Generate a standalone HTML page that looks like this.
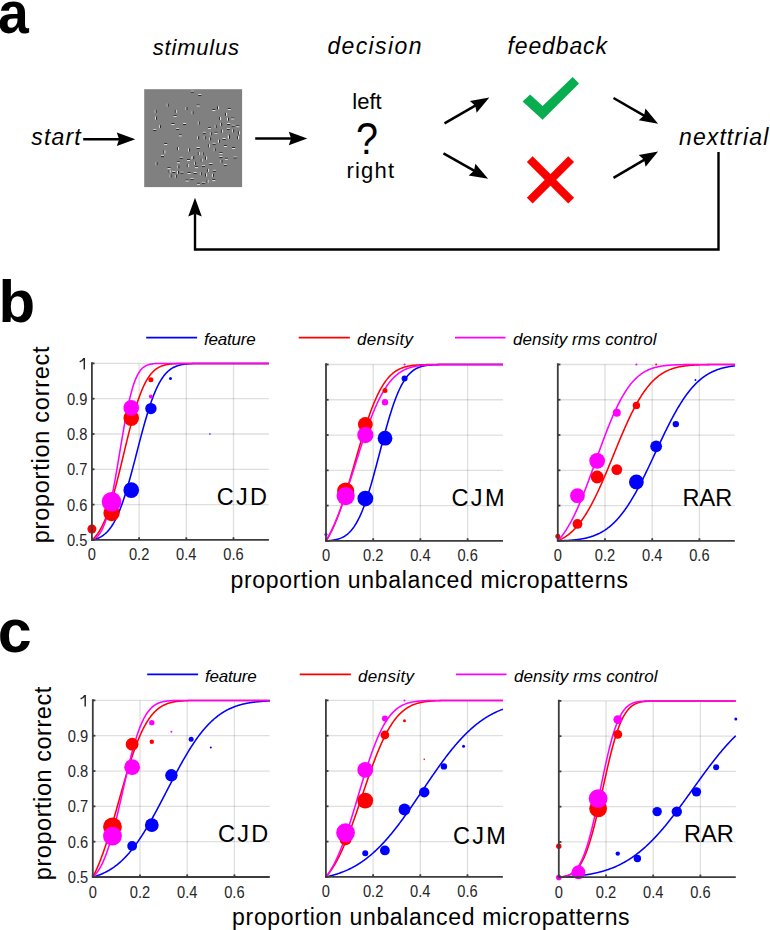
<!DOCTYPE html><html><head><meta charset="utf-8"><style>html,body{margin:0;padding:0;background:#fff;overflow:hidden;}svg{display:block;}</style></head><body><svg width="770" height="930" viewBox="0 0 770 930" font-family='"Liberation Sans", sans-serif'>
<rect width="770" height="930" fill="#fff"/>
<text x="0" y="0" font-size="59.5" font-weight="bold" fill="#000" transform="translate(-2.0,32.6) scale(0.93,1)">a</text>
<text x="0" y="0" font-size="60" font-weight="bold" fill="#000" transform="translate(-1.4,321.8) scale(1.0,1)">b</text>
<text x="0" y="0" font-size="61" font-weight="bold" fill="#000" transform="translate(-2.2,651.9) scale(1.0,1)">c</text>
<text x="152.8" y="54.8" font-size="22" font-style="italic" letter-spacing="0.8" fill="#000">stimulus</text>
<text x="327.4" y="54.2" font-size="23" font-style="italic" letter-spacing="1.38" fill="#000">decision</text>
<text x="507.5" y="54.1" font-size="23" font-style="italic" letter-spacing="0.87" fill="#000">feedback</text>
<text x="679.0" y="144.7" font-size="23" font-style="italic" letter-spacing="1.1" fill="#000">nexttrial</text>
<text x="31.2" y="144.8" font-size="23" font-style="italic" letter-spacing="1.2" fill="#000">start</text>
<text x="352.3" y="109.3" font-size="22" fill="#000">left</text>
<text x="346.4" y="177.6" font-size="22" letter-spacing="1.2" fill="#000">right</text>
<text x="0" y="0" font-size="39.5" fill="#000" transform="translate(356.0,153.6) scale(1,1.14)">?</text>
<line x1="83.20" y1="139.30" x2="120.10" y2="139.30" stroke="#000" stroke-width="2.5"/>
<polygon points="135.30,139.30 116.80,146.10 119.10,139.30 116.80,132.50" fill="#000"/>
<line x1="255.20" y1="138.50" x2="292.10" y2="138.50" stroke="#000" stroke-width="2.5"/>
<polygon points="307.30,138.50 288.80,145.30 291.10,138.50 288.80,131.70" fill="#000"/>
<line x1="444.50" y1="123.40" x2="476.13" y2="105.19" stroke="#000" stroke-width="2.5"/>
<polygon points="489.30,97.60 476.66,112.73 475.26,105.68 469.87,100.94" fill="#000"/>
<line x1="443.50" y1="153.30" x2="474.89" y2="171.18" stroke="#000" stroke-width="2.5"/>
<polygon points="488.10,178.70 468.66,175.45 474.02,170.68 475.39,163.64" fill="#000"/>
<line x1="613.50" y1="98.00" x2="644.93" y2="116.11" stroke="#000" stroke-width="2.5"/>
<polygon points="658.10,123.70 638.68,120.36 644.06,115.61 645.47,108.57" fill="#000"/>
<line x1="613.50" y1="177.80" x2="644.99" y2="159.30" stroke="#000" stroke-width="2.5"/>
<polygon points="658.10,151.60 645.59,166.83 644.13,159.81 638.70,155.11" fill="#000"/>
<polyline points="718.5,151.9 718.5,249.5 195,249.5 195,214" fill="none" stroke="#000" stroke-width="2.4"/>
<polygon points="195,197.7 201.8,216.4 195,213.8 188.2,216.4" fill="#000"/>
<polygon points="522.6,101.6 530.1,94.5 542.6,106.1 572.7,77.1 579,83.5 542.6,119.7" fill="#07ad4f"/>
<line x1="529.75" y1="159.2" x2="571.15" y2="200.6" stroke="#fb0000" stroke-width="8.2"/>
<line x1="571.15" y1="159.2" x2="529.75" y2="200.6" stroke="#fb0000" stroke-width="8.2"/>
<rect x="144.2" y="89.2" width="97.9" height="97.9" fill="#808080"/>
<rect x="190.90" y="90.80" width="3.0" height="0.9" fill="#f0f0f0"/><rect x="190.90" y="91.70" width="3.0" height="0.9" fill="#1a1a1a"/>
<rect x="198.30" y="94.20" width="3.0" height="0.9" fill="#f0f0f0"/><rect x="198.30" y="95.10" width="3.0" height="0.9" fill="#1a1a1a"/>
<rect x="166.80" y="103.70" width="0.9" height="3.0" fill="#f0f0f0"/><rect x="167.70" y="103.70" width="0.9" height="3.0" fill="#1a1a1a"/>
<rect x="154.80" y="109.90" width="0.9" height="3.0" fill="#f0f0f0"/><rect x="155.70" y="109.90" width="0.9" height="3.0" fill="#1a1a1a"/>
<rect x="174.90" y="109.90" width="0.9" height="3.0" fill="#1a1a1a"/><rect x="175.80" y="109.90" width="0.9" height="3.0" fill="#f0f0f0"/>
<rect x="185.60" y="107.00" width="0.9" height="3.0" fill="#f0f0f0"/><rect x="186.50" y="107.00" width="0.9" height="3.0" fill="#1a1a1a"/>
<rect x="191.70" y="111.20" width="0.9" height="3.0" fill="#f0f0f0"/><rect x="192.60" y="111.20" width="0.9" height="3.0" fill="#1a1a1a"/>
<rect x="173.60" y="115.00" width="3.0" height="0.9" fill="#1a1a1a"/><rect x="173.60" y="115.90" width="3.0" height="0.9" fill="#f0f0f0"/>
<rect x="155.10" y="116.70" width="0.9" height="3.0" fill="#f0f0f0"/><rect x="156.00" y="116.70" width="0.9" height="3.0" fill="#1a1a1a"/>
<rect x="171.40" y="123.10" width="3.0" height="0.9" fill="#1a1a1a"/><rect x="171.40" y="124.00" width="3.0" height="0.9" fill="#f0f0f0"/>
<rect x="183.10" y="123.10" width="3.0" height="0.9" fill="#f0f0f0"/><rect x="183.10" y="124.00" width="3.0" height="0.9" fill="#1a1a1a"/>
<rect x="159.00" y="125.10" width="0.9" height="3.0" fill="#f0f0f0"/><rect x="159.90" y="125.10" width="0.9" height="3.0" fill="#1a1a1a"/>
<rect x="153.20" y="129.00" width="3.0" height="0.9" fill="#f0f0f0"/><rect x="153.20" y="129.90" width="3.0" height="0.9" fill="#1a1a1a"/>
<rect x="176.20" y="128.00" width="3.0" height="0.9" fill="#f0f0f0"/><rect x="176.20" y="128.90" width="3.0" height="0.9" fill="#1a1a1a"/>
<rect x="178.80" y="134.50" width="3.0" height="0.9" fill="#1a1a1a"/><rect x="178.80" y="135.40" width="3.0" height="0.9" fill="#f0f0f0"/>
<rect x="196.70" y="104.60" width="3.0" height="0.9" fill="#1a1a1a"/><rect x="196.70" y="105.50" width="3.0" height="0.9" fill="#f0f0f0"/>
<rect x="212.30" y="109.20" width="3.0" height="0.9" fill="#1a1a1a"/><rect x="212.30" y="110.10" width="3.0" height="0.9" fill="#f0f0f0"/>
<rect x="217.10" y="106.30" width="0.9" height="3.0" fill="#1a1a1a"/><rect x="218.00" y="106.30" width="0.9" height="3.0" fill="#f0f0f0"/>
<rect x="227.80" y="108.20" width="3.0" height="0.9" fill="#1a1a1a"/><rect x="227.80" y="109.10" width="3.0" height="0.9" fill="#f0f0f0"/>
<rect x="225.20" y="112.80" width="0.9" height="3.0" fill="#1a1a1a"/><rect x="226.10" y="112.80" width="0.9" height="3.0" fill="#f0f0f0"/>
<rect x="219.00" y="117.00" width="0.9" height="3.0" fill="#1a1a1a"/><rect x="219.90" y="117.00" width="0.9" height="3.0" fill="#f0f0f0"/>
<rect x="227.10" y="117.70" width="0.9" height="3.0" fill="#f0f0f0"/><rect x="228.00" y="117.70" width="0.9" height="3.0" fill="#1a1a1a"/>
<rect x="231.10" y="117.60" width="3.0" height="0.9" fill="#1a1a1a"/><rect x="231.10" y="118.50" width="3.0" height="0.9" fill="#f0f0f0"/>
<rect x="197.90" y="121.60" width="0.9" height="3.0" fill="#f0f0f0"/><rect x="198.80" y="121.60" width="0.9" height="3.0" fill="#1a1a1a"/>
<rect x="220.30" y="122.90" width="0.9" height="3.0" fill="#f0f0f0"/><rect x="221.20" y="122.90" width="0.9" height="3.0" fill="#1a1a1a"/>
<rect x="227.20" y="123.10" width="3.0" height="0.9" fill="#f0f0f0"/><rect x="227.20" y="124.00" width="3.0" height="0.9" fill="#1a1a1a"/>
<rect x="231.70" y="124.80" width="3.0" height="0.9" fill="#f0f0f0"/><rect x="231.70" y="125.70" width="3.0" height="0.9" fill="#1a1a1a"/>
<rect x="236.30" y="125.40" width="3.0" height="0.9" fill="#1a1a1a"/><rect x="236.30" y="126.30" width="3.0" height="0.9" fill="#f0f0f0"/>
<rect x="214.80" y="125.10" width="0.9" height="3.0" fill="#f0f0f0"/><rect x="215.70" y="125.10" width="0.9" height="3.0" fill="#1a1a1a"/>
<rect x="208.00" y="127.00" width="3.0" height="0.9" fill="#1a1a1a"/><rect x="208.00" y="127.90" width="3.0" height="0.9" fill="#f0f0f0"/>
<rect x="226.90" y="128.00" width="3.0" height="0.9" fill="#f0f0f0"/><rect x="226.90" y="128.90" width="3.0" height="0.9" fill="#1a1a1a"/>
<rect x="221.00" y="129.70" width="0.9" height="3.0" fill="#1a1a1a"/><rect x="221.90" y="129.70" width="0.9" height="3.0" fill="#f0f0f0"/>
<rect x="232.30" y="129.40" width="0.9" height="3.0" fill="#f0f0f0"/><rect x="233.20" y="129.40" width="0.9" height="3.0" fill="#1a1a1a"/>
<rect x="202.80" y="131.90" width="3.0" height="0.9" fill="#f0f0f0"/><rect x="202.80" y="132.80" width="3.0" height="0.9" fill="#1a1a1a"/>
<rect x="214.50" y="131.90" width="3.0" height="0.9" fill="#1a1a1a"/><rect x="214.50" y="132.80" width="3.0" height="0.9" fill="#f0f0f0"/>
<rect x="209.90" y="132.30" width="0.9" height="3.0" fill="#f0f0f0"/><rect x="210.80" y="132.30" width="0.9" height="3.0" fill="#1a1a1a"/>
<rect x="238.20" y="131.30" width="0.9" height="3.0" fill="#1a1a1a"/><rect x="239.10" y="131.30" width="0.9" height="3.0" fill="#f0f0f0"/>
<rect x="227.80" y="134.60" width="0.9" height="3.0" fill="#f0f0f0"/><rect x="228.70" y="134.60" width="0.9" height="3.0" fill="#1a1a1a"/>
<rect x="197.30" y="136.30" width="0.9" height="3.0" fill="#f0f0f0"/><rect x="198.20" y="136.30" width="0.9" height="3.0" fill="#1a1a1a"/>
<rect x="203.80" y="136.30" width="0.9" height="3.0" fill="#f0f0f0"/><rect x="204.70" y="136.30" width="0.9" height="3.0" fill="#1a1a1a"/>
<rect x="237.20" y="136.10" width="0.9" height="3.0" fill="#1a1a1a"/><rect x="238.10" y="136.10" width="0.9" height="3.0" fill="#f0f0f0"/>
<rect x="164.20" y="143.20" width="3.0" height="0.9" fill="#1a1a1a"/><rect x="164.20" y="144.10" width="3.0" height="0.9" fill="#f0f0f0"/>
<rect x="177.20" y="147.20" width="0.9" height="3.0" fill="#1a1a1a"/><rect x="178.10" y="147.20" width="0.9" height="3.0" fill="#f0f0f0"/>
<rect x="188.20" y="148.50" width="0.9" height="3.0" fill="#f0f0f0"/><rect x="189.10" y="148.50" width="0.9" height="3.0" fill="#1a1a1a"/>
<rect x="163.50" y="150.40" width="0.9" height="3.0" fill="#1a1a1a"/><rect x="164.40" y="150.40" width="0.9" height="3.0" fill="#f0f0f0"/>
<rect x="161.00" y="155.30" width="3.0" height="0.9" fill="#f0f0f0"/><rect x="161.00" y="156.20" width="3.0" height="0.9" fill="#1a1a1a"/>
<rect x="179.80" y="156.90" width="3.0" height="0.9" fill="#f0f0f0"/><rect x="179.80" y="157.80" width="3.0" height="0.9" fill="#1a1a1a"/>
<rect x="187.00" y="159.20" width="3.0" height="0.9" fill="#1a1a1a"/><rect x="187.00" y="160.10" width="3.0" height="0.9" fill="#f0f0f0"/>
<rect x="191.50" y="156.30" width="0.9" height="3.0" fill="#f0f0f0"/><rect x="192.40" y="156.30" width="0.9" height="3.0" fill="#1a1a1a"/>
<rect x="176.90" y="161.40" width="3.0" height="0.9" fill="#1a1a1a"/><rect x="176.90" y="162.30" width="3.0" height="0.9" fill="#f0f0f0"/>
<rect x="155.70" y="162.10" width="0.9" height="3.0" fill="#f0f0f0"/><rect x="156.60" y="162.10" width="0.9" height="3.0" fill="#1a1a1a"/>
<rect x="177.50" y="165.40" width="0.9" height="3.0" fill="#f0f0f0"/><rect x="178.40" y="165.40" width="0.9" height="3.0" fill="#1a1a1a"/>
<rect x="186.90" y="164.10" width="0.9" height="3.0" fill="#1a1a1a"/><rect x="187.80" y="164.10" width="0.9" height="3.0" fill="#f0f0f0"/>
<rect x="167.50" y="167.30" width="3.0" height="0.9" fill="#1a1a1a"/><rect x="167.50" y="168.20" width="3.0" height="0.9" fill="#f0f0f0"/>
<rect x="168.70" y="169.90" width="0.9" height="3.0" fill="#1a1a1a"/><rect x="169.60" y="169.90" width="0.9" height="3.0" fill="#f0f0f0"/>
<rect x="172.30" y="171.20" width="3.0" height="0.9" fill="#f0f0f0"/><rect x="172.30" y="172.10" width="3.0" height="0.9" fill="#1a1a1a"/>
<rect x="177.20" y="170.90" width="0.9" height="3.0" fill="#f0f0f0"/><rect x="178.10" y="170.90" width="0.9" height="3.0" fill="#1a1a1a"/>
<rect x="180.50" y="171.80" width="3.0" height="0.9" fill="#f0f0f0"/><rect x="180.50" y="172.70" width="3.0" height="0.9" fill="#1a1a1a"/>
<rect x="187.60" y="172.10" width="3.0" height="0.9" fill="#1a1a1a"/><rect x="187.60" y="173.00" width="3.0" height="0.9" fill="#f0f0f0"/>
<rect x="169.70" y="174.50" width="0.9" height="3.0" fill="#f0f0f0"/><rect x="170.60" y="174.50" width="0.9" height="3.0" fill="#1a1a1a"/>
<rect x="174.90" y="174.80" width="0.9" height="3.0" fill="#f0f0f0"/><rect x="175.80" y="174.80" width="0.9" height="3.0" fill="#1a1a1a"/>
<rect x="185.70" y="179.60" width="3.0" height="0.9" fill="#1a1a1a"/><rect x="185.70" y="180.50" width="3.0" height="0.9" fill="#f0f0f0"/>
<rect x="190.50" y="178.00" width="3.0" height="0.9" fill="#f0f0f0"/><rect x="190.50" y="178.90" width="3.0" height="0.9" fill="#1a1a1a"/>
<rect x="209.30" y="137.50" width="0.9" height="3.0" fill="#f0f0f0"/><rect x="210.20" y="137.50" width="0.9" height="3.0" fill="#1a1a1a"/>
<rect x="222.60" y="138.10" width="3.0" height="0.9" fill="#f0f0f0"/><rect x="222.60" y="139.00" width="3.0" height="0.9" fill="#1a1a1a"/>
<rect x="228.10" y="135.80" width="0.9" height="3.0" fill="#f0f0f0"/><rect x="229.00" y="135.80" width="0.9" height="3.0" fill="#1a1a1a"/>
<rect x="218.10" y="139.70" width="0.9" height="3.0" fill="#f0f0f0"/><rect x="219.00" y="139.70" width="0.9" height="3.0" fill="#1a1a1a"/>
<rect x="212.60" y="142.90" width="3.0" height="0.9" fill="#f0f0f0"/><rect x="212.60" y="143.80" width="3.0" height="0.9" fill="#1a1a1a"/>
<rect x="208.00" y="144.30" width="0.9" height="3.0" fill="#1a1a1a"/><rect x="208.90" y="144.30" width="0.9" height="3.0" fill="#f0f0f0"/>
<rect x="223.90" y="145.20" width="3.0" height="0.9" fill="#1a1a1a"/><rect x="223.90" y="146.10" width="3.0" height="0.9" fill="#f0f0f0"/>
<rect x="232.10" y="147.10" width="3.0" height="0.9" fill="#1a1a1a"/><rect x="232.10" y="148.00" width="3.0" height="0.9" fill="#f0f0f0"/>
<rect x="196.70" y="147.10" width="3.0" height="0.9" fill="#f0f0f0"/><rect x="196.70" y="148.00" width="3.0" height="0.9" fill="#1a1a1a"/>
<rect x="213.80" y="148.20" width="0.9" height="3.0" fill="#f0f0f0"/><rect x="214.70" y="148.20" width="0.9" height="3.0" fill="#1a1a1a"/>
<rect x="197.90" y="152.10" width="0.9" height="3.0" fill="#1a1a1a"/><rect x="198.80" y="152.10" width="0.9" height="3.0" fill="#f0f0f0"/>
<rect x="201.80" y="152.40" width="0.9" height="3.0" fill="#f0f0f0"/><rect x="202.70" y="152.40" width="0.9" height="3.0" fill="#1a1a1a"/>
<rect x="219.40" y="152.00" width="3.0" height="0.9" fill="#1a1a1a"/><rect x="219.40" y="152.90" width="3.0" height="0.9" fill="#f0f0f0"/>
<rect x="192.40" y="156.00" width="0.9" height="3.0" fill="#f0f0f0"/><rect x="193.30" y="156.00" width="0.9" height="3.0" fill="#1a1a1a"/>
<rect x="205.10" y="156.60" width="0.9" height="3.0" fill="#1a1a1a"/><rect x="206.00" y="156.60" width="0.9" height="3.0" fill="#f0f0f0"/>
<rect x="219.40" y="156.20" width="3.0" height="0.9" fill="#f0f0f0"/><rect x="219.40" y="157.10" width="3.0" height="0.9" fill="#1a1a1a"/>
<rect x="224.90" y="157.90" width="3.0" height="0.9" fill="#1a1a1a"/><rect x="224.90" y="158.80" width="3.0" height="0.9" fill="#f0f0f0"/>
<rect x="233.70" y="156.60" width="3.0" height="0.9" fill="#f0f0f0"/><rect x="233.70" y="157.50" width="3.0" height="0.9" fill="#1a1a1a"/>
<rect x="200.80" y="158.60" width="0.9" height="3.0" fill="#1a1a1a"/><rect x="201.70" y="158.60" width="0.9" height="3.0" fill="#f0f0f0"/>
<rect x="220.60" y="159.90" width="0.9" height="3.0" fill="#f0f0f0"/><rect x="221.50" y="159.90" width="0.9" height="3.0" fill="#1a1a1a"/>
<rect x="194.00" y="161.80" width="0.9" height="3.0" fill="#f0f0f0"/><rect x="194.90" y="161.80" width="0.9" height="3.0" fill="#1a1a1a"/>
<rect x="209.30" y="163.10" width="3.0" height="0.9" fill="#f0f0f0"/><rect x="209.30" y="164.00" width="3.0" height="0.9" fill="#1a1a1a"/>
<rect x="223.90" y="164.00" width="3.0" height="0.9" fill="#f0f0f0"/><rect x="223.90" y="164.90" width="3.0" height="0.9" fill="#1a1a1a"/>
<rect x="201.90" y="165.00" width="3.0" height="0.9" fill="#f0f0f0"/><rect x="201.90" y="165.90" width="3.0" height="0.9" fill="#1a1a1a"/>
<rect x="195.00" y="166.30" width="3.0" height="0.9" fill="#1a1a1a"/><rect x="195.00" y="167.20" width="3.0" height="0.9" fill="#f0f0f0"/>
<rect x="207.00" y="168.90" width="0.9" height="3.0" fill="#1a1a1a"/><rect x="207.90" y="168.90" width="0.9" height="3.0" fill="#f0f0f0"/>
<rect x="212.90" y="169.90" width="3.0" height="0.9" fill="#f0f0f0"/><rect x="212.90" y="170.80" width="3.0" height="0.9" fill="#1a1a1a"/>
<rect x="193.70" y="172.10" width="3.0" height="0.9" fill="#f0f0f0"/><rect x="193.70" y="173.00" width="3.0" height="0.9" fill="#1a1a1a"/>
<rect x="199.90" y="172.20" width="0.9" height="3.0" fill="#f0f0f0"/><rect x="200.80" y="172.20" width="0.9" height="3.0" fill="#1a1a1a"/>
<rect x="205.10" y="173.50" width="0.9" height="3.0" fill="#1a1a1a"/><rect x="206.00" y="173.50" width="0.9" height="3.0" fill="#f0f0f0"/>
<rect x="212.20" y="173.80" width="0.9" height="3.0" fill="#f0f0f0"/><rect x="213.10" y="173.80" width="0.9" height="3.0" fill="#1a1a1a"/>
<rect x="206.70" y="179.70" width="0.9" height="3.0" fill="#1a1a1a"/><rect x="207.60" y="179.70" width="0.9" height="3.0" fill="#f0f0f0"/>
<rect x="212.30" y="179.30" width="3.0" height="0.9" fill="#1a1a1a"/><rect x="212.30" y="180.20" width="3.0" height="0.9" fill="#f0f0f0"/>
<rect x="197.00" y="182.90" width="3.0" height="0.9" fill="#1a1a1a"/><rect x="197.00" y="183.80" width="3.0" height="0.9" fill="#f0f0f0"/>
<rect x="201.90" y="181.90" width="3.0" height="0.9" fill="#f0f0f0"/><rect x="201.90" y="182.80" width="3.0" height="0.9" fill="#1a1a1a"/>
<line x1="146.2" y1="337.6" x2="197.1" y2="337.6" stroke="#0000ff" stroke-width="1.7"/>
<text x="204.0" y="344.7" font-size="17" font-style="italic" letter-spacing="-0.2" fill="#000">feature</text>
<line x1="298.7" y1="337.6" x2="349.9" y2="337.6" stroke="#ff0000" stroke-width="1.7"/>
<text x="357.0" y="344.7" font-size="17" font-style="italic" letter-spacing="0.35" fill="#000">density</text>
<line x1="455.0" y1="337.6" x2="505.5" y2="337.6" stroke="#ff00ff" stroke-width="1.7"/>
<text x="513.0" y="344.7" font-size="17" font-style="italic" letter-spacing="0.05" fill="#000">density rms control</text>
<line x1="147.2" y1="674.4000000000001" x2="198.1" y2="674.4000000000001" stroke="#0000ff" stroke-width="1.7"/>
<text x="205.0" y="681.5" font-size="17" font-style="italic" letter-spacing="-0.2" fill="#000">feature</text>
<line x1="299.7" y1="674.4000000000001" x2="350.9" y2="674.4000000000001" stroke="#ff0000" stroke-width="1.7"/>
<text x="358.0" y="681.5" font-size="17" font-style="italic" letter-spacing="0.35" fill="#000">density</text>
<line x1="456.0" y1="674.4000000000001" x2="506.5" y2="674.4000000000001" stroke="#ff00ff" stroke-width="1.7"/>
<text x="514.0" y="681.5" font-size="17" font-style="italic" letter-spacing="0.05" fill="#000">density rms control</text>
<text x="0" y="0" font-size="23.5" fill="#000" textLength="196.8" lengthAdjust="spacing" transform="translate(49.2,543.2) rotate(-90)">proportion correct</text>
<text x="0" y="0" font-size="23.5" fill="#000" textLength="193.5" lengthAdjust="spacing" transform="translate(50.7,880.2) rotate(-90)">proportion correct</text>
<text x="230.5" y="587.6" font-size="23" fill="#000" textLength="397.5" lengthAdjust="spacing">proportion unbalanced micropatterns</text>
<text x="232.1" y="924.8" font-size="23" fill="#000" textLength="397.5" lengthAdjust="spacing">proportion unbalanced micropatterns</text>
<line x1="139.10" y1="363.40" x2="139.10" y2="539.90" stroke="#262626" stroke-opacity="0.15" stroke-width="1.3"/>
<line x1="186.30" y1="363.40" x2="186.30" y2="539.90" stroke="#262626" stroke-opacity="0.15" stroke-width="1.3"/>
<line x1="233.50" y1="363.40" x2="233.50" y2="539.90" stroke="#262626" stroke-opacity="0.15" stroke-width="1.3"/>
<line x1="91.90" y1="504.60" x2="268.90" y2="504.60" stroke="#262626" stroke-opacity="0.15" stroke-width="1.3"/>
<line x1="91.90" y1="469.30" x2="268.90" y2="469.30" stroke="#262626" stroke-opacity="0.15" stroke-width="1.3"/>
<line x1="91.90" y1="434.00" x2="268.90" y2="434.00" stroke="#262626" stroke-opacity="0.15" stroke-width="1.3"/>
<line x1="91.90" y1="398.70" x2="268.90" y2="398.70" stroke="#262626" stroke-opacity="0.15" stroke-width="1.3"/>
<line x1="91.90" y1="363.40" x2="268.90" y2="363.40" stroke="#262626" stroke-opacity="0.15" stroke-width="1.3"/>
<text x="216.8" y="505.0" font-size="23.5" letter-spacing="2.2" fill="#000">CJD</text>
<polyline points="91.90,539.90 92.49,539.78 93.08,539.66 93.67,539.52 94.26,539.38 94.85,539.22 95.44,539.05 96.03,538.86 96.62,538.67 97.21,538.46 97.80,538.23 98.39,537.99 98.98,537.73 99.57,537.45 100.16,537.15 100.75,536.84 101.34,536.50 101.93,536.14 102.52,535.76 103.11,535.35 103.70,534.92 104.29,534.47 104.88,533.98 105.47,533.47 106.06,532.93 106.65,532.36 107.24,531.76 107.83,531.13 108.42,530.46 109.01,529.76 109.60,529.03 110.19,528.25 110.78,527.44 111.37,526.60 111.96,525.71 112.55,524.79 113.14,523.82 113.73,522.81 114.32,521.76 114.91,520.67 115.50,519.53 116.09,518.36 116.68,517.13 117.27,515.87 117.86,514.56 118.45,513.20 119.04,511.80 119.63,510.35 120.22,508.86 120.81,507.33 121.40,505.75 121.99,504.13 122.58,502.47 123.17,500.76 123.76,499.01 124.35,497.22 124.94,495.39 125.53,493.52 126.12,491.62 126.71,489.68 127.30,487.70 127.89,485.69 128.48,483.65 129.07,481.57 129.66,479.47 130.25,477.34 130.84,475.19 131.43,473.01 132.02,470.82 132.61,468.60 133.20,466.37 133.79,464.12 134.38,461.86 134.97,459.59 135.56,457.32 136.15,455.03 136.74,452.75 137.33,450.46 137.92,448.18 138.51,445.90 139.10,443.63 139.69,441.36 140.28,439.11 140.87,436.87 141.46,434.65 142.05,432.44 142.64,430.26 143.23,428.09 143.82,425.96 144.41,423.84 145.00,421.76 145.59,419.70 146.18,417.68 146.77,415.69 147.36,413.73 147.95,411.81 148.54,409.93 149.13,408.08 149.72,406.27 150.31,404.51 150.90,402.78 151.49,401.10 152.08,399.46 152.67,397.87 153.26,396.31 153.85,394.81 154.44,393.34 155.03,391.92 155.62,390.55 156.21,389.22 156.80,387.93 157.39,386.69 157.98,385.50 158.57,384.34 159.16,383.23 159.75,382.17 160.34,381.14 160.93,380.16 161.52,379.22 162.11,378.31 162.70,377.45 163.29,376.62 163.88,375.84 164.47,375.09 165.06,374.37 165.65,373.69 166.24,373.04 166.83,372.43 167.42,371.85 168.01,371.29 168.60,370.77 169.19,370.28 169.78,369.81 170.37,369.37 170.96,368.95 171.55,368.56 172.14,368.19 172.73,367.85 173.32,367.52 173.91,367.22 174.50,366.93 175.09,366.67 175.68,366.42 176.27,366.18 176.86,365.97 177.45,365.76 178.04,365.58 178.63,365.40 179.22,365.24 179.81,365.09 180.40,364.94 180.99,364.81 181.58,364.69 182.17,364.58 182.76,364.48 183.35,364.39 183.94,364.30 184.53,364.22 185.12,364.14 185.71,364.08 186.30,364.01 186.89,363.96 187.48,363.91 188.07,363.86 188.66,363.81 189.25,363.77 189.84,363.74 190.43,363.70 191.02,363.67 191.61,363.65 192.20,363.62 192.79,363.60 193.38,363.58 193.97,363.56 194.56,363.54 195.15,363.53 195.74,363.52 196.33,363.50 196.92,363.49 197.51,363.48 198.10,363.47 198.69,363.46 199.28,363.46 199.87,363.45 200.46,363.45 201.05,363.44 201.64,363.44 202.23,363.43 202.82,363.43 203.41,363.42 204.00,363.42 204.59,363.42 205.18,363.42 205.77,363.41 206.36,363.41 206.95,363.41 207.54,363.41 208.13,363.41 208.72,363.41 209.31,363.41 209.90,363.41 210.49,363.41 211.08,363.40 211.67,363.40 212.26,363.40 212.85,363.40 213.44,363.40 214.03,363.40 214.62,363.40 215.21,363.40 215.80,363.40 216.39,363.40 216.98,363.40 217.57,363.40 218.16,363.40 218.75,363.40 219.34,363.40 219.93,363.40 220.52,363.40 221.11,363.40 221.70,363.40 222.29,363.40 222.88,363.40 223.47,363.40 224.06,363.40 224.65,363.40 225.24,363.40 225.83,363.40 226.42,363.40 227.01,363.40 227.60,363.40 228.19,363.40 228.78,363.40 229.37,363.40 229.96,363.40 230.55,363.40 231.14,363.40 231.73,363.40 232.32,363.40 232.91,363.40 233.50,363.40 234.09,363.40 234.68,363.40 235.27,363.40 235.86,363.40 236.45,363.40 237.04,363.40 237.63,363.40 238.22,363.40 238.81,363.40 239.40,363.40 239.99,363.40 240.58,363.40 241.17,363.40 241.76,363.40 242.35,363.40 242.94,363.40 243.53,363.40 244.12,363.40 244.71,363.40 245.30,363.40 245.89,363.40 246.48,363.40 247.07,363.40 247.66,363.40 248.25,363.40 248.84,363.40 249.43,363.40 250.02,363.40 250.61,363.40 251.20,363.40 251.79,363.40 252.38,363.40 252.97,363.40 253.56,363.40 254.15,363.40 254.74,363.40 255.33,363.40 255.92,363.40 256.51,363.40 257.10,363.40 257.69,363.40 258.28,363.40 258.87,363.40 259.46,363.40 260.05,363.40 260.64,363.40 261.23,363.40 261.82,363.40 262.41,363.40 263.00,363.40 263.59,363.40 264.18,363.40 264.77,363.40 265.36,363.40 265.95,363.40 266.54,363.40 267.13,363.40 267.72,363.40 268.31,363.40 268.90,363.40" fill="none" stroke="#0000ff" stroke-width="1.55" stroke-linejoin="round"/>
<polyline points="91.90,539.90 92.49,539.41 93.08,538.88 93.67,538.33 94.26,537.74 94.85,537.12 95.44,536.46 96.03,535.76 96.62,535.03 97.21,534.26 97.80,533.45 98.39,532.59 98.98,531.70 99.57,530.76 100.16,529.77 100.75,528.74 101.34,527.66 101.93,526.54 102.52,525.37 103.11,524.15 103.70,522.88 104.29,521.56 104.88,520.19 105.47,518.77 106.06,517.29 106.65,515.77 107.24,514.20 107.83,512.58 108.42,510.91 109.01,509.18 109.60,507.41 110.19,505.59 110.78,503.73 111.37,501.81 111.96,499.86 112.55,497.85 113.14,495.81 113.73,493.72 114.32,491.59 114.91,489.42 115.50,487.22 116.09,484.98 116.68,482.72 117.27,480.42 117.86,478.09 118.45,475.73 119.04,473.36 119.63,470.96 120.22,468.55 120.81,466.12 121.40,463.67 121.99,461.22 122.58,458.76 123.17,456.29 123.76,453.83 124.35,451.36 124.94,448.90 125.53,446.44 126.12,444.00 126.71,441.57 127.30,439.15 127.89,436.75 128.48,434.37 129.07,432.01 129.66,429.68 130.25,427.37 130.84,425.10 131.43,422.86 132.02,420.65 132.61,418.48 133.20,416.34 133.79,414.25 134.38,412.19 134.97,410.18 135.56,408.22 136.15,406.30 136.74,404.42 137.33,402.59 137.92,400.81 138.51,399.08 139.10,397.40 139.69,395.77 140.28,394.19 140.87,392.66 141.46,391.18 142.05,389.76 142.64,388.38 143.23,387.05 143.82,385.77 144.41,384.54 145.00,383.36 145.59,382.23 146.18,381.14 146.77,380.11 147.36,379.11 147.95,378.17 148.54,377.26 149.13,376.40 149.72,375.58 150.31,374.80 150.90,374.06 151.49,373.36 152.08,372.70 152.67,372.07 153.26,371.47 153.85,370.91 154.44,370.39 155.03,369.89 155.62,369.42 156.21,368.98 156.80,368.57 157.39,368.18 157.98,367.82 158.57,367.48 159.16,367.16 159.75,366.86 160.34,366.59 160.93,366.33 161.52,366.09 162.11,365.87 162.70,365.66 163.29,365.47 163.88,365.30 164.47,365.13 165.06,364.98 165.65,364.84 166.24,364.71 166.83,364.59 167.42,364.49 168.01,364.39 168.60,364.29 169.19,364.21 169.78,364.13 170.37,364.06 170.96,364.00 171.55,363.94 172.14,363.89 172.73,363.84 173.32,363.79 173.91,363.75 174.50,363.72 175.09,363.69 175.68,363.66 176.27,363.63 176.86,363.60 177.45,363.58 178.04,363.56 178.63,363.55 179.22,363.53 179.81,363.51 180.40,363.50 180.99,363.49 181.58,363.48 182.17,363.47 182.76,363.46 183.35,363.46 183.94,363.45 184.53,363.44 185.12,363.44 185.71,363.43 186.30,363.43 186.89,363.43 187.48,363.42 188.07,363.42 188.66,363.42 189.25,363.42 189.84,363.41 190.43,363.41 191.02,363.41 191.61,363.41 192.20,363.41 192.79,363.41 193.38,363.41 193.97,363.40 194.56,363.40 195.15,363.40 195.74,363.40 196.33,363.40 196.92,363.40 197.51,363.40 198.10,363.40 198.69,363.40 199.28,363.40 199.87,363.40 200.46,363.40 201.05,363.40 201.64,363.40 202.23,363.40 202.82,363.40 203.41,363.40 204.00,363.40 204.59,363.40 205.18,363.40 205.77,363.40 206.36,363.40 206.95,363.40 207.54,363.40 208.13,363.40 208.72,363.40 209.31,363.40 209.90,363.40 210.49,363.40 211.08,363.40 211.67,363.40 212.26,363.40 212.85,363.40 213.44,363.40 214.03,363.40 214.62,363.40 215.21,363.40 215.80,363.40 216.39,363.40 216.98,363.40 217.57,363.40 218.16,363.40 218.75,363.40 219.34,363.40 219.93,363.40 220.52,363.40 221.11,363.40 221.70,363.40 222.29,363.40 222.88,363.40 223.47,363.40 224.06,363.40 224.65,363.40 225.24,363.40 225.83,363.40 226.42,363.40 227.01,363.40 227.60,363.40 228.19,363.40 228.78,363.40 229.37,363.40 229.96,363.40 230.55,363.40 231.14,363.40 231.73,363.40 232.32,363.40 232.91,363.40 233.50,363.40 234.09,363.40 234.68,363.40 235.27,363.40 235.86,363.40 236.45,363.40 237.04,363.40 237.63,363.40 238.22,363.40 238.81,363.40 239.40,363.40 239.99,363.40 240.58,363.40 241.17,363.40 241.76,363.40 242.35,363.40 242.94,363.40 243.53,363.40 244.12,363.40 244.71,363.40 245.30,363.40 245.89,363.40 246.48,363.40 247.07,363.40 247.66,363.40 248.25,363.40 248.84,363.40 249.43,363.40 250.02,363.40 250.61,363.40 251.20,363.40 251.79,363.40 252.38,363.40 252.97,363.40 253.56,363.40 254.15,363.40 254.74,363.40 255.33,363.40 255.92,363.40 256.51,363.40 257.10,363.40 257.69,363.40 258.28,363.40 258.87,363.40 259.46,363.40 260.05,363.40 260.64,363.40 261.23,363.40 261.82,363.40 262.41,363.40 263.00,363.40 263.59,363.40 264.18,363.40 264.77,363.40 265.36,363.40 265.95,363.40 266.54,363.40 267.13,363.40 267.72,363.40 268.31,363.40 268.90,363.40" fill="none" stroke="#ff0000" stroke-width="1.55" stroke-linejoin="round"/>
<polyline points="91.90,539.90 92.49,539.67 93.08,539.41 93.67,539.11 94.26,538.79 94.85,538.42 95.44,538.02 96.03,537.57 96.62,537.07 97.21,536.53 97.80,535.92 98.39,535.26 98.98,534.54 99.57,533.75 100.16,532.89 100.75,531.95 101.34,530.94 101.93,529.84 102.52,528.66 103.11,527.38 103.70,526.02 104.29,524.55 104.88,522.99 105.47,521.33 106.06,519.56 106.65,517.69 107.24,515.71 107.83,513.63 108.42,511.43 109.01,509.13 109.60,506.72 110.19,504.21 110.78,501.59 111.37,498.87 111.96,496.05 112.55,493.13 113.14,490.13 113.73,487.04 114.32,483.87 114.91,480.63 115.50,477.32 116.09,473.96 116.68,470.54 117.27,467.07 117.86,463.57 118.45,460.04 119.04,456.50 119.63,452.94 120.22,449.38 120.81,445.83 121.40,442.30 121.99,438.79 122.58,435.31 123.17,431.88 123.76,428.50 124.35,425.17 124.94,421.91 125.53,418.73 126.12,415.62 126.71,412.59 127.30,409.65 127.89,406.81 128.48,404.06 129.07,401.41 129.66,398.87 130.25,396.43 130.84,394.10 131.43,391.88 132.02,389.76 132.61,387.75 133.20,385.85 133.79,384.06 134.38,382.37 134.97,380.78 135.56,379.29 136.15,377.90 136.74,376.60 137.33,375.40 137.92,374.28 138.51,373.24 139.10,372.28 139.69,371.40 140.28,370.59 140.87,369.85 141.46,369.17 142.05,368.56 142.64,367.99 143.23,367.48 143.82,367.02 144.41,366.61 145.00,366.23 145.59,365.89 146.18,365.59 146.77,365.32 147.36,365.08 147.95,364.87 148.54,364.68 149.13,364.51 149.72,364.37 150.31,364.24 150.90,364.12 151.49,364.02 152.08,363.93 152.67,363.86 153.26,363.79 153.85,363.73 154.44,363.68 155.03,363.64 155.62,363.60 156.21,363.57 156.80,363.55 157.39,363.52 157.98,363.50 158.57,363.49 159.16,363.47 159.75,363.46 160.34,363.45 160.93,363.44 161.52,363.43 162.11,363.43 162.70,363.42 163.29,363.42 163.88,363.42 164.47,363.41 165.06,363.41 165.65,363.41 166.24,363.41 166.83,363.41 167.42,363.40 168.01,363.40 168.60,363.40 169.19,363.40 169.78,363.40 170.37,363.40 170.96,363.40 171.55,363.40 172.14,363.40 172.73,363.40 173.32,363.40 173.91,363.40 174.50,363.40 175.09,363.40 175.68,363.40 176.27,363.40 176.86,363.40 177.45,363.40 178.04,363.40 178.63,363.40 179.22,363.40 179.81,363.40 180.40,363.40 180.99,363.40 181.58,363.40 182.17,363.40 182.76,363.40 183.35,363.40 183.94,363.40 184.53,363.40 185.12,363.40 185.71,363.40 186.30,363.40 186.89,363.40 187.48,363.40 188.07,363.40 188.66,363.40 189.25,363.40 189.84,363.40 190.43,363.40 191.02,363.40 191.61,363.40 192.20,363.40 192.79,363.40 193.38,363.40 193.97,363.40 194.56,363.40 195.15,363.40 195.74,363.40 196.33,363.40 196.92,363.40 197.51,363.40 198.10,363.40 198.69,363.40 199.28,363.40 199.87,363.40 200.46,363.40 201.05,363.40 201.64,363.40 202.23,363.40 202.82,363.40 203.41,363.40 204.00,363.40 204.59,363.40 205.18,363.40 205.77,363.40 206.36,363.40 206.95,363.40 207.54,363.40 208.13,363.40 208.72,363.40 209.31,363.40 209.90,363.40 210.49,363.40 211.08,363.40 211.67,363.40 212.26,363.40 212.85,363.40 213.44,363.40 214.03,363.40 214.62,363.40 215.21,363.40 215.80,363.40 216.39,363.40 216.98,363.40 217.57,363.40 218.16,363.40 218.75,363.40 219.34,363.40 219.93,363.40 220.52,363.40 221.11,363.40 221.70,363.40 222.29,363.40 222.88,363.40 223.47,363.40 224.06,363.40 224.65,363.40 225.24,363.40 225.83,363.40 226.42,363.40 227.01,363.40 227.60,363.40 228.19,363.40 228.78,363.40 229.37,363.40 229.96,363.40 230.55,363.40 231.14,363.40 231.73,363.40 232.32,363.40 232.91,363.40 233.50,363.40 234.09,363.40 234.68,363.40 235.27,363.40 235.86,363.40 236.45,363.40 237.04,363.40 237.63,363.40 238.22,363.40 238.81,363.40 239.40,363.40 239.99,363.40 240.58,363.40 241.17,363.40 241.76,363.40 242.35,363.40 242.94,363.40 243.53,363.40 244.12,363.40 244.71,363.40 245.30,363.40 245.89,363.40 246.48,363.40 247.07,363.40 247.66,363.40 248.25,363.40 248.84,363.40 249.43,363.40 250.02,363.40 250.61,363.40 251.20,363.40 251.79,363.40 252.38,363.40 252.97,363.40 253.56,363.40 254.15,363.40 254.74,363.40 255.33,363.40 255.92,363.40 256.51,363.40 257.10,363.40 257.69,363.40 258.28,363.40 258.87,363.40 259.46,363.40 260.05,363.40 260.64,363.40 261.23,363.40 261.82,363.40 262.41,363.40 263.00,363.40 263.59,363.40 264.18,363.40 264.77,363.40 265.36,363.40 265.95,363.40 266.54,363.40 267.13,363.40 267.72,363.40 268.31,363.40 268.90,363.40" fill="none" stroke="#ff00ff" stroke-width="1.55" stroke-linejoin="round"/>
<circle cx="170.49" cy="378.58" r="1.5" fill="#0000ff"/>
<circle cx="150.90" cy="408.58" r="5.7" fill="#0000ff"/>
<circle cx="131.24" cy="490.13" r="7.8" fill="#0000ff"/>
<circle cx="209.90" cy="434.00" r="0.7" fill="#0000ff"/>
<circle cx="150.90" cy="379.64" r="2.5" fill="#ff0000"/>
<circle cx="131.24" cy="418.12" r="7.8" fill="#ff0000"/>
<circle cx="111.56" cy="513.07" r="8.2" fill="#ff0000"/>
<circle cx="91.90" cy="528.96" r="4.5" fill="#ff0000"/>
<circle cx="150.90" cy="396.58" r="2.0" fill="#ff00ff"/>
<circle cx="131.24" cy="407.88" r="7.8" fill="#ff00ff"/>
<circle cx="111.56" cy="501.78" r="9.8" fill="#ff00ff"/>
<line x1="91.90" y1="362.20" x2="91.90" y2="540.80" stroke="#3c3c3c" stroke-width="1.8"/>
<line x1="91.00" y1="539.90" x2="268.90" y2="539.90" stroke="#3c3c3c" stroke-width="1.8"/>
<line x1="91.90" y1="539.90" x2="94.50" y2="539.90" stroke="#3c3c3c" stroke-width="1.8"/>
<line x1="91.90" y1="504.60" x2="94.50" y2="504.60" stroke="#3c3c3c" stroke-width="1.8"/>
<line x1="91.90" y1="469.30" x2="94.50" y2="469.30" stroke="#3c3c3c" stroke-width="1.8"/>
<line x1="91.90" y1="434.00" x2="94.50" y2="434.00" stroke="#3c3c3c" stroke-width="1.8"/>
<line x1="91.90" y1="398.70" x2="94.50" y2="398.70" stroke="#3c3c3c" stroke-width="1.8"/>
<line x1="91.90" y1="363.40" x2="94.50" y2="363.40" stroke="#3c3c3c" stroke-width="1.8"/>
<line x1="91.90" y1="539.90" x2="91.90" y2="537.30" stroke="#3c3c3c" stroke-width="1.8"/>
<line x1="139.10" y1="539.90" x2="139.10" y2="537.30" stroke="#3c3c3c" stroke-width="1.8"/>
<line x1="186.30" y1="539.90" x2="186.30" y2="537.30" stroke="#3c3c3c" stroke-width="1.8"/>
<line x1="233.50" y1="539.90" x2="233.50" y2="537.30" stroke="#3c3c3c" stroke-width="1.8"/>
<text x="0" y="0" font-size="15.8" text-anchor="middle" fill="#262626" transform="translate(91.90,560.40) scale(0.93,1)">0</text>
<text x="0" y="0" font-size="15.8" text-anchor="middle" fill="#262626" transform="translate(139.10,560.40) scale(0.93,1)">0.2</text>
<text x="0" y="0" font-size="15.8" text-anchor="middle" fill="#262626" transform="translate(186.30,560.40) scale(0.93,1)">0.4</text>
<text x="0" y="0" font-size="15.8" text-anchor="middle" fill="#262626" transform="translate(233.50,560.40) scale(0.93,1)">0.6</text>
<path d="M84.30,369.60 V358.80 L83.50,358.80 Q82.30,361.00 79.70,361.80" fill="none" stroke="#262626" stroke-width="1.45"/>
<text x="0" y="0" font-size="15.8" text-anchor="end" fill="#262626" transform="translate(87.30,545.90) scale(0.93,1)">0.5</text>
<text x="0" y="0" font-size="15.8" text-anchor="end" fill="#262626" transform="translate(87.30,510.60) scale(0.93,1)">0.6</text>
<text x="0" y="0" font-size="15.8" text-anchor="end" fill="#262626" transform="translate(87.30,475.30) scale(0.93,1)">0.7</text>
<text x="0" y="0" font-size="15.8" text-anchor="end" fill="#262626" transform="translate(87.30,440.00) scale(0.93,1)">0.8</text>
<text x="0" y="0" font-size="15.8" text-anchor="end" fill="#262626" transform="translate(87.30,404.70) scale(0.93,1)">0.9</text>
<line x1="373.20" y1="364.50" x2="373.20" y2="540.85" stroke="#262626" stroke-opacity="0.15" stroke-width="1.3"/>
<line x1="420.40" y1="364.50" x2="420.40" y2="540.85" stroke="#262626" stroke-opacity="0.15" stroke-width="1.3"/>
<line x1="467.60" y1="364.50" x2="467.60" y2="540.85" stroke="#262626" stroke-opacity="0.15" stroke-width="1.3"/>
<line x1="326.00" y1="505.58" x2="503.00" y2="505.58" stroke="#262626" stroke-opacity="0.15" stroke-width="1.3"/>
<line x1="326.00" y1="470.31" x2="503.00" y2="470.31" stroke="#262626" stroke-opacity="0.15" stroke-width="1.3"/>
<line x1="326.00" y1="435.04" x2="503.00" y2="435.04" stroke="#262626" stroke-opacity="0.15" stroke-width="1.3"/>
<line x1="326.00" y1="399.77" x2="503.00" y2="399.77" stroke="#262626" stroke-opacity="0.15" stroke-width="1.3"/>
<line x1="326.00" y1="364.50" x2="503.00" y2="364.50" stroke="#262626" stroke-opacity="0.15" stroke-width="1.3"/>
<text x="451.6" y="506.3" font-size="23.5" letter-spacing="2.3" fill="#000">CJM</text>
<polyline points="326.00,540.85 326.59,540.82 327.18,540.78 327.77,540.74 328.36,540.70 328.95,540.65 329.54,540.60 330.13,540.54 330.72,540.48 331.31,540.41 331.90,540.33 332.49,540.25 333.08,540.17 333.67,540.07 334.26,539.97 334.85,539.86 335.44,539.74 336.03,539.61 336.62,539.47 337.21,539.31 337.80,539.15 338.39,538.98 338.98,538.79 339.57,538.59 340.16,538.37 340.75,538.14 341.34,537.89 341.93,537.62 342.52,537.34 343.11,537.03 343.70,536.71 344.29,536.37 344.88,536.00 345.47,535.61 346.06,535.20 346.65,534.76 347.24,534.30 347.83,533.81 348.42,533.29 349.01,532.74 349.60,532.16 350.19,531.55 350.78,530.91 351.37,530.23 351.96,529.52 352.55,528.78 353.14,528.00 353.73,527.18 354.32,526.33 354.91,525.43 355.50,524.50 356.09,523.53 356.68,522.51 357.27,521.45 357.86,520.36 358.45,519.22 359.04,518.03 359.63,516.80 360.22,515.53 360.81,514.22 361.40,512.86 361.99,511.46 362.58,510.01 363.17,508.52 363.76,506.98 364.35,505.40 364.94,503.78 365.53,502.12 366.12,500.42 366.71,498.67 367.30,496.89 367.89,495.06 368.48,493.20 369.07,491.30 369.66,489.37 370.25,487.40 370.84,485.40 371.43,483.37 372.02,481.30 372.61,479.22 373.20,477.10 373.79,474.96 374.38,472.80 374.97,470.62 375.56,468.42 376.15,466.21 376.74,463.98 377.33,461.74 377.92,459.49 378.51,457.23 379.10,454.97 379.69,452.71 380.28,450.45 380.87,448.19 381.46,445.93 382.05,443.69 382.64,441.45 383.23,439.22 383.82,437.01 384.41,434.81 385.00,432.63 385.59,430.47 386.18,428.33 386.77,426.22 387.36,424.14 387.95,422.08 388.54,420.05 389.13,418.05 389.72,416.09 390.31,414.16 390.90,412.26 391.49,410.40 392.08,408.58 392.67,406.80 393.26,405.06 393.85,403.36 394.44,401.70 395.03,400.09 395.62,398.51 396.21,396.98 396.80,395.50 397.39,394.05 397.98,392.66 398.57,391.30 399.16,389.99 399.75,388.72 400.34,387.50 400.93,386.32 401.52,385.19 402.11,384.09 402.70,383.04 403.29,382.03 403.88,381.06 404.47,380.13 405.06,379.24 405.65,378.39 406.24,377.58 406.83,376.80 407.42,376.06 408.01,375.35 408.60,374.68 409.19,374.04 409.78,373.44 410.37,372.86 410.96,372.32 411.55,371.80 412.14,371.31 412.73,370.85 413.32,370.42 413.91,370.01 414.50,369.62 415.09,369.26 415.68,368.91 416.27,368.59 416.86,368.29 417.45,368.01 418.04,367.75 418.63,367.50 419.22,367.27 419.81,367.05 420.40,366.85 420.99,366.66 421.58,366.49 422.17,366.33 422.76,366.18 423.35,366.04 423.94,365.91 424.53,365.79 425.12,365.68 425.71,365.58 426.30,365.48 426.89,365.40 427.48,365.32 428.07,365.24 428.66,365.18 429.25,365.11 429.84,365.06 430.43,365.01 431.02,364.96 431.61,364.91 432.20,364.88 432.79,364.84 433.38,364.81 433.97,364.78 434.56,364.75 435.15,364.72 435.74,364.70 436.33,364.68 436.92,364.66 437.51,364.65 438.10,364.63 438.69,364.62 439.28,364.60 439.87,364.59 440.46,364.58 441.05,364.57 441.64,364.57 442.23,364.56 442.82,364.55 443.41,364.55 444.00,364.54 444.59,364.54 445.18,364.53 445.77,364.53 446.36,364.53 446.95,364.52 447.54,364.52 448.13,364.52 448.72,364.52 449.31,364.51 449.90,364.51 450.49,364.51 451.08,364.51 451.67,364.51 452.26,364.51 452.85,364.51 453.44,364.51 454.03,364.50 454.62,364.50 455.21,364.50 455.80,364.50 456.39,364.50 456.98,364.50 457.57,364.50 458.16,364.50 458.75,364.50 459.34,364.50 459.93,364.50 460.52,364.50 461.11,364.50 461.70,364.50 462.29,364.50 462.88,364.50 463.47,364.50 464.06,364.50 464.65,364.50 465.24,364.50 465.83,364.50 466.42,364.50 467.01,364.50 467.60,364.50 468.19,364.50 468.78,364.50 469.37,364.50 469.96,364.50 470.55,364.50 471.14,364.50 471.73,364.50 472.32,364.50 472.91,364.50 473.50,364.50 474.09,364.50 474.68,364.50 475.27,364.50 475.86,364.50 476.45,364.50 477.04,364.50 477.63,364.50 478.22,364.50 478.81,364.50 479.40,364.50 479.99,364.50 480.58,364.50 481.17,364.50 481.76,364.50 482.35,364.50 482.94,364.50 483.53,364.50 484.12,364.50 484.71,364.50 485.30,364.50 485.89,364.50 486.48,364.50 487.07,364.50 487.66,364.50 488.25,364.50 488.84,364.50 489.43,364.50 490.02,364.50 490.61,364.50 491.20,364.50 491.79,364.50 492.38,364.50 492.97,364.50 493.56,364.50 494.15,364.50 494.74,364.50 495.33,364.50 495.92,364.50 496.51,364.50 497.10,364.50 497.69,364.50 498.28,364.50 498.87,364.50 499.46,364.50 500.05,364.50 500.64,364.50 501.23,364.50 501.82,364.50 502.41,364.50 503.00,364.50" fill="none" stroke="#0000ff" stroke-width="1.55" stroke-linejoin="round"/>
<polyline points="326.00,540.85 326.59,539.94 327.18,539.00 327.77,538.03 328.36,537.03 328.95,536.00 329.54,534.93 330.13,533.83 330.72,532.70 331.31,531.54 331.90,530.34 332.49,529.11 333.08,527.85 333.67,526.55 334.26,525.23 334.85,523.87 335.44,522.47 336.03,521.05 336.62,519.59 337.21,518.10 337.80,516.58 338.39,515.03 338.98,513.45 339.57,511.84 340.16,510.20 340.75,508.53 341.34,506.83 341.93,505.10 342.52,503.35 343.11,501.57 343.70,499.77 344.29,497.95 344.88,496.10 345.47,494.23 346.06,492.33 346.65,490.42 347.24,488.49 347.83,486.54 348.42,484.58 349.01,482.60 349.60,480.61 350.19,478.60 350.78,476.58 351.37,474.56 351.96,472.52 352.55,470.48 353.14,468.43 353.73,466.38 354.32,464.32 354.91,462.27 355.50,460.21 356.09,458.16 356.68,456.10 357.27,454.06 357.86,452.01 358.45,449.98 359.04,447.95 359.63,445.94 360.22,443.93 360.81,441.94 361.40,439.96 361.99,437.99 362.58,436.05 363.17,434.12 363.76,432.20 364.35,430.31 364.94,428.44 365.53,426.59 366.12,424.77 366.71,422.97 367.30,421.19 367.89,419.44 368.48,417.71 369.07,416.01 369.66,414.35 370.25,412.71 370.84,411.09 371.43,409.51 372.02,407.96 372.61,406.44 373.20,404.95 373.79,403.50 374.38,402.07 374.97,400.68 375.56,399.32 376.15,397.99 376.74,396.70 377.33,395.44 377.92,394.21 378.51,393.01 379.10,391.85 379.69,390.72 380.28,389.62 380.87,388.56 381.46,387.52 382.05,386.52 382.64,385.55 383.23,384.61 383.82,383.71 384.41,382.83 385.00,381.98 385.59,381.16 386.18,380.37 386.77,379.61 387.36,378.88 387.95,378.17 388.54,377.50 389.13,376.84 389.72,376.22 390.31,375.62 390.90,375.04 391.49,374.49 392.08,373.96 392.67,373.45 393.26,372.97 393.85,372.50 394.44,372.06 395.03,371.64 395.62,371.24 396.21,370.85 396.80,370.49 397.39,370.14 397.98,369.81 398.57,369.49 399.16,369.20 399.75,368.91 400.34,368.64 400.93,368.39 401.52,368.15 402.11,367.92 402.70,367.70 403.29,367.50 403.88,367.30 404.47,367.12 405.06,366.95 405.65,366.79 406.24,366.63 406.83,366.49 407.42,366.35 408.01,366.23 408.60,366.11 409.19,366.00 409.78,365.89 410.37,365.79 410.96,365.70 411.55,365.61 412.14,365.53 412.73,365.46 413.32,365.39 413.91,365.32 414.50,365.26 415.09,365.20 415.68,365.15 416.27,365.10 416.86,365.05 417.45,365.01 418.04,364.97 418.63,364.93 419.22,364.90 419.81,364.87 420.40,364.84 420.99,364.81 421.58,364.78 422.17,364.76 422.76,364.74 423.35,364.72 423.94,364.70 424.53,364.68 425.12,364.67 425.71,364.65 426.30,364.64 426.89,364.63 427.48,364.62 428.07,364.61 428.66,364.60 429.25,364.59 429.84,364.58 430.43,364.57 431.02,364.57 431.61,364.56 432.20,364.55 432.79,364.55 433.38,364.54 433.97,364.54 434.56,364.54 435.15,364.53 435.74,364.53 436.33,364.53 436.92,364.52 437.51,364.52 438.10,364.52 438.69,364.52 439.28,364.52 439.87,364.51 440.46,364.51 441.05,364.51 441.64,364.51 442.23,364.51 442.82,364.51 443.41,364.51 444.00,364.51 444.59,364.51 445.18,364.51 445.77,364.50 446.36,364.50 446.95,364.50 447.54,364.50 448.13,364.50 448.72,364.50 449.31,364.50 449.90,364.50 450.49,364.50 451.08,364.50 451.67,364.50 452.26,364.50 452.85,364.50 453.44,364.50 454.03,364.50 454.62,364.50 455.21,364.50 455.80,364.50 456.39,364.50 456.98,364.50 457.57,364.50 458.16,364.50 458.75,364.50 459.34,364.50 459.93,364.50 460.52,364.50 461.11,364.50 461.70,364.50 462.29,364.50 462.88,364.50 463.47,364.50 464.06,364.50 464.65,364.50 465.24,364.50 465.83,364.50 466.42,364.50 467.01,364.50 467.60,364.50 468.19,364.50 468.78,364.50 469.37,364.50 469.96,364.50 470.55,364.50 471.14,364.50 471.73,364.50 472.32,364.50 472.91,364.50 473.50,364.50 474.09,364.50 474.68,364.50 475.27,364.50 475.86,364.50 476.45,364.50 477.04,364.50 477.63,364.50 478.22,364.50 478.81,364.50 479.40,364.50 479.99,364.50 480.58,364.50 481.17,364.50 481.76,364.50 482.35,364.50 482.94,364.50 483.53,364.50 484.12,364.50 484.71,364.50 485.30,364.50 485.89,364.50 486.48,364.50 487.07,364.50 487.66,364.50 488.25,364.50 488.84,364.50 489.43,364.50 490.02,364.50 490.61,364.50 491.20,364.50 491.79,364.50 492.38,364.50 492.97,364.50 493.56,364.50 494.15,364.50 494.74,364.50 495.33,364.50 495.92,364.50 496.51,364.50 497.10,364.50 497.69,364.50 498.28,364.50 498.87,364.50 499.46,364.50 500.05,364.50 500.64,364.50 501.23,364.50 501.82,364.50 502.41,364.50 503.00,364.50" fill="none" stroke="#ff0000" stroke-width="1.55" stroke-linejoin="round"/>
<polyline points="326.00,540.85 326.59,539.85 327.18,538.82 327.77,537.77 328.36,536.70 328.95,535.59 329.54,534.46 330.13,533.31 330.72,532.13 331.31,530.92 331.90,529.69 332.49,528.43 333.08,527.14 333.67,525.83 334.26,524.50 334.85,523.14 335.44,521.75 336.03,520.34 336.62,518.91 337.21,517.45 337.80,515.97 338.39,514.47 338.98,512.94 339.57,511.40 340.16,509.83 340.75,508.24 341.34,506.63 341.93,505.00 342.52,503.35 343.11,501.68 343.70,499.99 344.29,498.29 344.88,496.57 345.47,494.84 346.06,493.09 346.65,491.33 347.24,489.55 347.83,487.76 348.42,485.96 349.01,484.15 349.60,482.33 350.19,480.51 350.78,478.67 351.37,476.83 351.96,474.98 352.55,473.12 353.14,471.27 353.73,469.41 354.32,467.55 354.91,465.68 355.50,463.82 356.09,461.96 356.68,460.10 357.27,458.24 357.86,456.39 358.45,454.54 359.04,452.70 359.63,450.87 360.22,449.04 360.81,447.22 361.40,445.41 361.99,443.61 362.58,441.83 363.17,440.05 363.76,438.29 364.35,436.55 364.94,434.81 365.53,433.10 366.12,431.40 366.71,429.72 367.30,428.05 367.89,426.40 368.48,424.78 369.07,423.17 369.66,421.58 370.25,420.02 370.84,418.47 371.43,416.95 372.02,415.45 372.61,413.97 373.20,412.52 373.79,411.09 374.38,409.69 374.97,408.30 375.56,406.95 376.15,405.62 376.74,404.31 377.33,403.03 377.92,401.78 378.51,400.55 379.10,399.34 379.69,398.17 380.28,397.01 380.87,395.89 381.46,394.79 382.05,393.72 382.64,392.67 383.23,391.65 383.82,390.65 384.41,389.68 385.00,388.74 385.59,387.82 386.18,386.92 386.77,386.05 387.36,385.21 387.95,384.39 388.54,383.59 389.13,382.82 389.72,382.07 390.31,381.35 390.90,380.64 391.49,379.96 392.08,379.30 392.67,378.67 393.26,378.05 393.85,377.46 394.44,376.88 395.03,376.33 395.62,375.79 396.21,375.28 396.80,374.78 397.39,374.30 397.98,373.84 398.57,373.40 399.16,372.97 399.75,372.57 400.34,372.17 400.93,371.80 401.52,371.43 402.11,371.09 402.70,370.75 403.29,370.44 403.88,370.13 404.47,369.84 405.06,369.56 405.65,369.29 406.24,369.04 406.83,368.80 407.42,368.56 408.01,368.34 408.60,368.13 409.19,367.93 409.78,367.74 410.37,367.56 410.96,367.38 411.55,367.22 412.14,367.06 412.73,366.91 413.32,366.77 413.91,366.64 414.50,366.51 415.09,366.39 415.68,366.28 416.27,366.17 416.86,366.07 417.45,365.97 418.04,365.88 418.63,365.79 419.22,365.71 419.81,365.63 420.40,365.56 420.99,365.49 421.58,365.43 422.17,365.37 422.76,365.31 423.35,365.26 423.94,365.21 424.53,365.16 425.12,365.12 425.71,365.07 426.30,365.03 426.89,365.00 427.48,364.96 428.07,364.93 428.66,364.90 429.25,364.87 429.84,364.85 430.43,364.82 431.02,364.80 431.61,364.78 432.20,364.76 432.79,364.74 433.38,364.72 433.97,364.70 434.56,364.69 435.15,364.67 435.74,364.66 436.33,364.65 436.92,364.64 437.51,364.63 438.10,364.62 438.69,364.61 439.28,364.60 439.87,364.59 440.46,364.58 441.05,364.58 441.64,364.57 442.23,364.57 442.82,364.56 443.41,364.56 444.00,364.55 444.59,364.55 445.18,364.54 445.77,364.54 446.36,364.54 446.95,364.53 447.54,364.53 448.13,364.53 448.72,364.53 449.31,364.52 449.90,364.52 450.49,364.52 451.08,364.52 451.67,364.52 452.26,364.51 452.85,364.51 453.44,364.51 454.03,364.51 454.62,364.51 455.21,364.51 455.80,364.51 456.39,364.51 456.98,364.51 457.57,364.51 458.16,364.51 458.75,364.51 459.34,364.50 459.93,364.50 460.52,364.50 461.11,364.50 461.70,364.50 462.29,364.50 462.88,364.50 463.47,364.50 464.06,364.50 464.65,364.50 465.24,364.50 465.83,364.50 466.42,364.50 467.01,364.50 467.60,364.50 468.19,364.50 468.78,364.50 469.37,364.50 469.96,364.50 470.55,364.50 471.14,364.50 471.73,364.50 472.32,364.50 472.91,364.50 473.50,364.50 474.09,364.50 474.68,364.50 475.27,364.50 475.86,364.50 476.45,364.50 477.04,364.50 477.63,364.50 478.22,364.50 478.81,364.50 479.40,364.50 479.99,364.50 480.58,364.50 481.17,364.50 481.76,364.50 482.35,364.50 482.94,364.50 483.53,364.50 484.12,364.50 484.71,364.50 485.30,364.50 485.89,364.50 486.48,364.50 487.07,364.50 487.66,364.50 488.25,364.50 488.84,364.50 489.43,364.50 490.02,364.50 490.61,364.50 491.20,364.50 491.79,364.50 492.38,364.50 492.97,364.50 493.56,364.50 494.15,364.50 494.74,364.50 495.33,364.50 495.92,364.50 496.51,364.50 497.10,364.50 497.69,364.50 498.28,364.50 498.87,364.50 499.46,364.50 500.05,364.50 500.64,364.50 501.23,364.50 501.82,364.50 502.41,364.50 503.00,364.50" fill="none" stroke="#ff00ff" stroke-width="1.55" stroke-linejoin="round"/>
<circle cx="326.00" cy="534.50" r="1.5" fill="#0000ff"/>
<circle cx="365.34" cy="498.53" r="7.9" fill="#0000ff"/>
<circle cx="385.00" cy="438.21" r="7.4" fill="#0000ff"/>
<circle cx="404.59" cy="378.61" r="3.0" fill="#0000ff"/>
<circle cx="345.66" cy="491.12" r="8.6" fill="#ff0000"/>
<circle cx="365.34" cy="424.46" r="7.4" fill="#ff0000"/>
<circle cx="385.00" cy="390.60" r="2.5" fill="#ff0000"/>
<circle cx="345.66" cy="496.06" r="9.1" fill="#ff00ff"/>
<circle cx="365.34" cy="435.04" r="8.1" fill="#ff00ff"/>
<circle cx="385.00" cy="402.24" r="3.2" fill="#ff00ff"/>
<circle cx="404.59" cy="364.50" r="1.0" fill="#ff00ff"/>
<line x1="326.00" y1="363.30" x2="326.00" y2="541.75" stroke="#3c3c3c" stroke-width="1.8"/>
<line x1="325.10" y1="540.85" x2="503.00" y2="540.85" stroke="#3c3c3c" stroke-width="1.8"/>
<line x1="326.00" y1="540.85" x2="328.60" y2="540.85" stroke="#3c3c3c" stroke-width="1.8"/>
<line x1="326.00" y1="505.58" x2="328.60" y2="505.58" stroke="#3c3c3c" stroke-width="1.8"/>
<line x1="326.00" y1="470.31" x2="328.60" y2="470.31" stroke="#3c3c3c" stroke-width="1.8"/>
<line x1="326.00" y1="435.04" x2="328.60" y2="435.04" stroke="#3c3c3c" stroke-width="1.8"/>
<line x1="326.00" y1="399.77" x2="328.60" y2="399.77" stroke="#3c3c3c" stroke-width="1.8"/>
<line x1="326.00" y1="364.50" x2="328.60" y2="364.50" stroke="#3c3c3c" stroke-width="1.8"/>
<line x1="326.00" y1="540.85" x2="326.00" y2="538.25" stroke="#3c3c3c" stroke-width="1.8"/>
<line x1="373.20" y1="540.85" x2="373.20" y2="538.25" stroke="#3c3c3c" stroke-width="1.8"/>
<line x1="420.40" y1="540.85" x2="420.40" y2="538.25" stroke="#3c3c3c" stroke-width="1.8"/>
<line x1="467.60" y1="540.85" x2="467.60" y2="538.25" stroke="#3c3c3c" stroke-width="1.8"/>
<text x="0" y="0" font-size="15.8" text-anchor="middle" fill="#262626" transform="translate(326.00,561.35) scale(0.93,1)">0</text>
<text x="0" y="0" font-size="15.8" text-anchor="middle" fill="#262626" transform="translate(373.20,561.35) scale(0.93,1)">0.2</text>
<text x="0" y="0" font-size="15.8" text-anchor="middle" fill="#262626" transform="translate(420.40,561.35) scale(0.93,1)">0.4</text>
<text x="0" y="0" font-size="15.8" text-anchor="middle" fill="#262626" transform="translate(467.60,561.35) scale(0.93,1)">0.6</text>
<line x1="605.00" y1="364.50" x2="605.00" y2="540.85" stroke="#262626" stroke-opacity="0.15" stroke-width="1.3"/>
<line x1="652.20" y1="364.50" x2="652.20" y2="540.85" stroke="#262626" stroke-opacity="0.15" stroke-width="1.3"/>
<line x1="699.40" y1="364.50" x2="699.40" y2="540.85" stroke="#262626" stroke-opacity="0.15" stroke-width="1.3"/>
<line x1="557.80" y1="505.58" x2="734.80" y2="505.58" stroke="#262626" stroke-opacity="0.15" stroke-width="1.3"/>
<line x1="557.80" y1="470.31" x2="734.80" y2="470.31" stroke="#262626" stroke-opacity="0.15" stroke-width="1.3"/>
<line x1="557.80" y1="435.04" x2="734.80" y2="435.04" stroke="#262626" stroke-opacity="0.15" stroke-width="1.3"/>
<line x1="557.80" y1="399.77" x2="734.80" y2="399.77" stroke="#262626" stroke-opacity="0.15" stroke-width="1.3"/>
<line x1="557.80" y1="364.50" x2="734.80" y2="364.50" stroke="#262626" stroke-opacity="0.15" stroke-width="1.3"/>
<text x="682.5" y="505.5" font-size="23.5" letter-spacing="0" fill="#000">RAR</text>
<polyline points="557.80,540.85 558.39,540.83 558.98,540.82 559.57,540.80 560.16,540.78 560.75,540.76 561.34,540.74 561.93,540.72 562.52,540.70 563.11,540.67 563.70,540.65 564.29,540.62 564.88,540.59 565.47,540.57 566.06,540.53 566.65,540.50 567.24,540.47 567.83,540.43 568.42,540.40 569.01,540.36 569.60,540.32 570.19,540.27 570.78,540.23 571.37,540.18 571.96,540.13 572.55,540.08 573.14,540.03 573.73,539.97 574.32,539.91 574.91,539.85 575.50,539.78 576.09,539.72 576.68,539.65 577.27,539.57 577.86,539.50 578.45,539.42 579.04,539.33 579.63,539.25 580.22,539.16 580.81,539.06 581.40,538.96 581.99,538.86 582.58,538.76 583.17,538.64 583.76,538.53 584.35,538.41 584.94,538.28 585.53,538.15 586.12,538.02 586.71,537.88 587.30,537.73 587.89,537.58 588.48,537.43 589.07,537.27 589.66,537.10 590.25,536.92 590.84,536.74 591.43,536.55 592.02,536.36 592.61,536.16 593.20,535.95 593.79,535.74 594.38,535.52 594.97,535.29 595.56,535.05 596.15,534.80 596.74,534.55 597.33,534.29 597.92,534.02 598.51,533.74 599.10,533.45 599.69,533.15 600.28,532.85 600.87,532.53 601.46,532.21 602.05,531.87 602.64,531.53 603.23,531.17 603.82,530.81 604.41,530.43 605.00,530.05 605.59,529.65 606.18,529.24 606.77,528.83 607.36,528.40 607.95,527.95 608.54,527.50 609.13,527.04 609.72,526.56 610.31,526.07 610.90,525.57 611.49,525.06 612.08,524.53 612.67,523.99 613.26,523.44 613.85,522.88 614.44,522.30 615.03,521.71 615.62,521.11 616.21,520.49 616.80,519.87 617.39,519.22 617.98,518.57 618.57,517.90 619.16,517.21 619.75,516.52 620.34,515.80 620.93,515.08 621.52,514.34 622.11,513.59 622.70,512.82 623.29,512.04 623.88,511.25 624.47,510.44 625.06,509.62 625.65,508.79 626.24,507.94 626.83,507.08 627.42,506.20 628.01,505.31 628.60,504.41 629.19,503.49 629.78,502.56 630.37,501.62 630.96,500.67 631.55,499.70 632.14,498.72 632.73,497.72 633.32,496.72 633.91,495.70 634.50,494.67 635.09,493.63 635.68,492.58 636.27,491.51 636.86,490.44 637.45,489.35 638.04,488.25 638.63,487.14 639.22,486.03 639.81,484.90 640.40,483.76 640.99,482.61 641.58,481.46 642.17,480.29 642.76,479.12 643.35,477.94 643.94,476.75 644.53,475.56 645.12,474.35 645.71,473.14 646.30,471.93 646.89,470.70 647.48,469.47 648.07,468.24 648.66,467.00 649.25,465.76 649.84,464.51 650.43,463.26 651.02,462.01 651.61,460.75 652.20,459.49 652.79,458.23 653.38,456.97 653.97,455.70 654.56,454.44 655.15,453.17 655.74,451.90 656.33,450.64 656.92,449.37 657.51,448.11 658.10,446.85 658.69,445.58 659.28,444.33 659.87,443.07 660.46,441.82 661.05,440.57 661.64,439.32 662.23,438.08 662.82,436.85 663.41,435.61 664.00,434.39 664.59,433.17 665.18,431.96 665.77,430.75 666.36,429.55 666.95,428.35 667.54,427.17 668.13,425.99 668.72,424.82 669.31,423.66 669.90,422.51 670.49,421.37 671.08,420.23 671.67,419.11 672.26,418.00 672.85,416.89 673.44,415.80 674.03,414.72 674.62,413.65 675.21,412.59 675.80,411.54 676.39,410.50 676.98,409.48 677.57,408.47 678.16,407.46 678.75,406.48 679.34,405.50 679.93,404.54 680.52,403.59 681.11,402.65 681.70,401.73 682.29,400.82 682.88,399.92 683.47,399.04 684.06,398.17 684.65,397.31 685.24,396.47 685.83,395.64 686.42,394.83 687.01,394.02 687.60,393.24 688.19,392.46 688.78,391.70 689.37,390.96 689.96,390.22 690.55,389.50 691.14,388.80 691.73,388.11 692.32,387.43 692.91,386.77 693.50,386.11 694.09,385.48 694.68,384.85 695.27,384.24 695.86,383.65 696.45,383.06 697.04,382.49 697.63,381.93 698.22,381.39 698.81,380.85 699.40,380.33 699.99,379.83 700.58,379.33 701.17,378.85 701.76,378.38 702.35,377.92 702.94,377.47 703.53,377.03 704.12,376.61 704.71,376.19 705.30,375.79 705.89,375.40 706.48,375.02 707.07,374.65 707.66,374.29 708.25,373.94 708.84,373.60 709.43,373.27 710.02,372.94 710.61,372.63 711.20,372.33 711.79,372.04 712.38,371.75 712.97,371.48 713.56,371.21 714.15,370.95 714.74,370.70 715.33,370.46 715.92,370.23 716.51,370.00 717.10,369.78 717.69,369.57 718.28,369.37 718.87,369.17 719.46,368.98 720.05,368.79 720.64,368.61 721.23,368.44 721.82,368.28 722.41,368.12 723.00,367.96 723.59,367.82 724.18,367.67 724.77,367.53 725.36,367.40 725.95,367.27 726.54,367.15 727.13,367.03 727.72,366.92 728.31,366.81 728.90,366.71 729.49,366.61 730.08,366.51 730.67,366.42 731.26,366.33 731.85,366.24 732.44,366.16 733.03,366.08 733.62,366.01 734.21,365.93 734.80,365.87" fill="none" stroke="#0000ff" stroke-width="1.55" stroke-linejoin="round"/>
<polyline points="557.80,540.85 558.39,540.60 558.98,540.33 559.57,540.06 560.16,539.77 560.75,539.48 561.34,539.17 561.93,538.86 562.52,538.53 563.11,538.19 563.70,537.84 564.29,537.48 564.88,537.11 565.47,536.72 566.06,536.32 566.65,535.91 567.24,535.49 567.83,535.05 568.42,534.60 569.01,534.13 569.60,533.65 570.19,533.16 570.78,532.65 571.37,532.13 571.96,531.59 572.55,531.04 573.14,530.47 573.73,529.89 574.32,529.29 574.91,528.67 575.50,528.04 576.09,527.39 576.68,526.73 577.27,526.04 577.86,525.35 578.45,524.63 579.04,523.90 579.63,523.15 580.22,522.39 580.81,521.60 581.40,520.80 581.99,519.99 582.58,519.15 583.17,518.30 583.76,517.43 584.35,516.54 584.94,515.64 585.53,514.71 586.12,513.77 586.71,512.82 587.30,511.84 587.89,510.85 588.48,509.84 589.07,508.82 589.66,507.78 590.25,506.72 590.84,505.64 591.43,504.55 592.02,503.44 592.61,502.32 593.20,501.18 593.79,500.02 594.38,498.85 594.97,497.67 595.56,496.47 596.15,495.25 596.74,494.02 597.33,492.78 597.92,491.53 598.51,490.26 599.10,488.97 599.69,487.68 600.28,486.37 600.87,485.06 601.46,483.73 602.05,482.39 602.64,481.04 603.23,479.68 603.82,478.31 604.41,476.94 605.00,475.55 605.59,474.16 606.18,472.76 606.77,471.35 607.36,469.94 607.95,468.52 608.54,467.10 609.13,465.67 609.72,464.23 610.31,462.80 610.90,461.36 611.49,459.92 612.08,458.47 612.67,457.03 613.26,455.59 613.85,454.14 614.44,452.70 615.03,451.25 615.62,449.81 616.21,448.37 616.80,446.94 617.39,445.50 617.98,444.07 618.57,442.65 619.16,441.23 619.75,439.81 620.34,438.41 620.93,437.00 621.52,435.61 622.11,434.22 622.70,432.84 623.29,431.47 623.88,430.11 624.47,428.76 625.06,427.42 625.65,426.09 626.24,424.77 626.83,423.46 627.42,422.17 628.01,420.88 628.60,419.61 629.19,418.35 629.78,417.11 630.37,415.88 630.96,414.66 631.55,413.46 632.14,412.27 632.73,411.09 633.32,409.94 633.91,408.79 634.50,407.67 635.09,406.56 635.68,405.46 636.27,404.38 636.86,403.32 637.45,402.27 638.04,401.25 638.63,400.23 639.22,399.24 639.81,398.26 640.40,397.30 640.99,396.36 641.58,395.43 642.17,394.53 642.76,393.63 643.35,392.76 643.94,391.91 644.53,391.07 645.12,390.25 645.71,389.44 646.30,388.66 646.89,387.89 647.48,387.14 648.07,386.40 648.66,385.68 649.25,384.98 649.84,384.30 650.43,383.63 651.02,382.98 651.61,382.34 652.20,381.73 652.79,381.12 653.38,380.54 653.97,379.96 654.56,379.41 655.15,378.87 655.74,378.34 656.33,377.83 656.92,377.33 657.51,376.85 658.10,376.38 658.69,375.93 659.28,375.49 659.87,375.06 660.46,374.65 661.05,374.25 661.64,373.86 662.23,373.48 662.82,373.12 663.41,372.77 664.00,372.43 664.59,372.10 665.18,371.78 665.77,371.47 666.36,371.18 666.95,370.89 667.54,370.61 668.13,370.35 668.72,370.09 669.31,369.85 669.90,369.61 670.49,369.38 671.08,369.16 671.67,368.95 672.26,368.74 672.85,368.55 673.44,368.36 674.03,368.18 674.62,368.01 675.21,367.84 675.80,367.68 676.39,367.53 676.98,367.38 677.57,367.24 678.16,367.10 678.75,366.97 679.34,366.85 679.93,366.73 680.52,366.62 681.11,366.51 681.70,366.41 682.29,366.31 682.88,366.22 683.47,366.13 684.06,366.04 684.65,365.96 685.24,365.88 685.83,365.81 686.42,365.74 687.01,365.67 687.60,365.61 688.19,365.55 688.78,365.49 689.37,365.43 689.96,365.38 690.55,365.33 691.14,365.28 691.73,365.24 692.32,365.20 692.91,365.16 693.50,365.12 694.09,365.08 694.68,365.05 695.27,365.02 695.86,364.99 696.45,364.96 697.04,364.93 697.63,364.90 698.22,364.88 698.81,364.86 699.40,364.83 699.99,364.81 700.58,364.79 701.17,364.78 701.76,364.76 702.35,364.74 702.94,364.73 703.53,364.71 704.12,364.70 704.71,364.69 705.30,364.67 705.89,364.66 706.48,364.65 707.07,364.64 707.66,364.63 708.25,364.62 708.84,364.61 709.43,364.61 710.02,364.60 710.61,364.59 711.20,364.59 711.79,364.58 712.38,364.58 712.97,364.57 713.56,364.57 714.15,364.56 714.74,364.56 715.33,364.55 715.92,364.55 716.51,364.55 717.10,364.54 717.69,364.54 718.28,364.54 718.87,364.53 719.46,364.53 720.05,364.53 720.64,364.53 721.23,364.52 721.82,364.52 722.41,364.52 723.00,364.52 723.59,364.52 724.18,364.52 724.77,364.52 725.36,364.51 725.95,364.51 726.54,364.51 727.13,364.51 727.72,364.51 728.31,364.51 728.90,364.51 729.49,364.51 730.08,364.51 730.67,364.51 731.26,364.51 731.85,364.51 732.44,364.51 733.03,364.50 733.62,364.50 734.21,364.50 734.80,364.50" fill="none" stroke="#ff0000" stroke-width="1.55" stroke-linejoin="round"/>
<polyline points="557.80,540.85 558.39,540.21 558.98,539.55 559.57,538.87 560.16,538.17 560.75,537.45 561.34,536.71 561.93,535.95 562.52,535.17 563.11,534.37 563.70,533.54 564.29,532.70 564.88,531.84 565.47,530.95 566.06,530.05 566.65,529.12 567.24,528.17 567.83,527.20 568.42,526.21 569.01,525.20 569.60,524.16 570.19,523.11 570.78,522.03 571.37,520.93 571.96,519.81 572.55,518.67 573.14,517.51 573.73,516.33 574.32,515.12 574.91,513.90 575.50,512.66 576.09,511.39 576.68,510.11 577.27,508.81 577.86,507.49 578.45,506.15 579.04,504.79 579.63,503.41 580.22,502.02 580.81,500.61 581.40,499.18 581.99,497.74 582.58,496.28 583.17,494.80 583.76,493.31 584.35,491.81 584.94,490.29 585.53,488.76 586.12,487.22 586.71,485.67 587.30,484.10 587.89,482.53 588.48,480.94 589.07,479.35 589.66,477.74 590.25,476.13 590.84,474.52 591.43,472.89 592.02,471.26 592.61,469.63 593.20,467.99 593.79,466.35 594.38,464.70 594.97,463.06 595.56,461.41 596.15,459.76 596.74,458.12 597.33,456.47 597.92,454.83 598.51,453.19 599.10,451.55 599.69,449.91 600.28,448.29 600.87,446.66 601.46,445.05 602.05,443.44 602.64,441.83 603.23,440.24 603.82,438.66 604.41,437.08 605.00,435.52 605.59,433.97 606.18,432.43 606.77,430.90 607.36,429.38 607.95,427.88 608.54,426.39 609.13,424.92 609.72,423.46 610.31,422.02 610.90,420.59 611.49,419.19 612.08,417.79 612.67,416.42 613.26,415.06 613.85,413.73 614.44,412.41 615.03,411.11 615.62,409.83 616.21,408.56 616.80,407.32 617.39,406.10 617.98,404.90 618.57,403.72 619.16,402.56 619.75,401.42 620.34,400.31 620.93,399.21 621.52,398.14 622.11,397.08 622.70,396.05 623.29,395.04 623.88,394.05 624.47,393.08 625.06,392.14 625.65,391.21 626.24,390.31 626.83,389.43 627.42,388.57 628.01,387.73 628.60,386.91 629.19,386.11 629.78,385.33 630.37,384.57 630.96,383.83 631.55,383.12 632.14,382.42 632.73,381.74 633.32,381.08 633.91,380.44 634.50,379.82 635.09,379.22 635.68,378.63 636.27,378.07 636.86,377.52 637.45,376.99 638.04,376.47 638.63,375.97 639.22,375.49 639.81,375.03 640.40,374.58 640.99,374.14 641.58,373.72 642.17,373.32 642.76,372.93 643.35,372.55 643.94,372.19 644.53,371.84 645.12,371.50 645.71,371.18 646.30,370.87 646.89,370.57 647.48,370.28 648.07,370.01 648.66,369.74 649.25,369.49 649.84,369.25 650.43,369.01 651.02,368.79 651.61,368.57 652.20,368.37 652.79,368.17 653.38,367.98 653.97,367.80 654.56,367.63 655.15,367.47 655.74,367.31 656.33,367.16 656.92,367.02 657.51,366.88 658.10,366.75 658.69,366.63 659.28,366.51 659.87,366.40 660.46,366.30 661.05,366.19 661.64,366.10 662.23,366.01 662.82,365.92 663.41,365.84 664.00,365.76 664.59,365.69 665.18,365.62 665.77,365.55 666.36,365.49 666.95,365.43 667.54,365.37 668.13,365.32 668.72,365.27 669.31,365.22 669.90,365.18 670.49,365.13 671.08,365.09 671.67,365.06 672.26,365.02 672.85,364.99 673.44,364.96 674.03,364.93 674.62,364.90 675.21,364.87 675.80,364.85 676.39,364.82 676.98,364.80 677.57,364.78 678.16,364.76 678.75,364.74 679.34,364.73 679.93,364.71 680.52,364.70 681.11,364.68 681.70,364.67 682.29,364.66 682.88,364.65 683.47,364.64 684.06,364.63 684.65,364.62 685.24,364.61 685.83,364.60 686.42,364.59 687.01,364.59 687.60,364.58 688.19,364.57 688.78,364.57 689.37,364.56 689.96,364.56 690.55,364.55 691.14,364.55 691.73,364.55 692.32,364.54 692.91,364.54 693.50,364.54 694.09,364.53 694.68,364.53 695.27,364.53 695.86,364.53 696.45,364.52 697.04,364.52 697.63,364.52 698.22,364.52 698.81,364.52 699.40,364.52 699.99,364.51 700.58,364.51 701.17,364.51 701.76,364.51 702.35,364.51 702.94,364.51 703.53,364.51 704.12,364.51 704.71,364.51 705.30,364.51 705.89,364.51 706.48,364.51 707.07,364.50 707.66,364.50 708.25,364.50 708.84,364.50 709.43,364.50 710.02,364.50 710.61,364.50 711.20,364.50 711.79,364.50 712.38,364.50 712.97,364.50 713.56,364.50 714.15,364.50 714.74,364.50 715.33,364.50 715.92,364.50 716.51,364.50 717.10,364.50 717.69,364.50 718.28,364.50 718.87,364.50 719.46,364.50 720.05,364.50 720.64,364.50 721.23,364.50 721.82,364.50 722.41,364.50 723.00,364.50 723.59,364.50 724.18,364.50 724.77,364.50 725.36,364.50 725.95,364.50 726.54,364.50 727.13,364.50 727.72,364.50 728.31,364.50 728.90,364.50 729.49,364.50 730.08,364.50 730.67,364.50 731.26,364.50 731.85,364.50 732.44,364.50 733.03,364.50 733.62,364.50 734.21,364.50 734.80,364.50" fill="none" stroke="#ff00ff" stroke-width="1.55" stroke-linejoin="round"/>
<circle cx="636.39" cy="481.95" r="7.4" fill="#0000ff"/>
<circle cx="656.14" cy="446.33" r="5.9" fill="#0000ff"/>
<circle cx="675.80" cy="424.11" r="3.2" fill="#0000ff"/>
<circle cx="695.46" cy="380.02" r="1.0" fill="#0000ff"/>
<circle cx="557.80" cy="536.26" r="2.5" fill="#ff0000"/>
<circle cx="577.46" cy="523.92" r="4.9" fill="#ff0000"/>
<circle cx="597.14" cy="477.01" r="6.4" fill="#ff0000"/>
<circle cx="616.80" cy="469.60" r="5.4" fill="#ff0000"/>
<circle cx="636.39" cy="405.41" r="3.7" fill="#ff0000"/>
<circle cx="656.14" cy="364.50" r="1.0" fill="#ff0000"/>
<circle cx="577.46" cy="495.70" r="7.4" fill="#ff00ff"/>
<circle cx="597.14" cy="460.79" r="7.9" fill="#ff00ff"/>
<circle cx="616.80" cy="412.82" r="4.0" fill="#ff00ff"/>
<circle cx="636.39" cy="364.50" r="1.0" fill="#ff00ff"/>
<line x1="557.80" y1="363.30" x2="557.80" y2="541.75" stroke="#3c3c3c" stroke-width="1.8"/>
<line x1="556.90" y1="540.85" x2="734.80" y2="540.85" stroke="#3c3c3c" stroke-width="1.8"/>
<line x1="557.80" y1="540.85" x2="560.40" y2="540.85" stroke="#3c3c3c" stroke-width="1.8"/>
<line x1="557.80" y1="505.58" x2="560.40" y2="505.58" stroke="#3c3c3c" stroke-width="1.8"/>
<line x1="557.80" y1="470.31" x2="560.40" y2="470.31" stroke="#3c3c3c" stroke-width="1.8"/>
<line x1="557.80" y1="435.04" x2="560.40" y2="435.04" stroke="#3c3c3c" stroke-width="1.8"/>
<line x1="557.80" y1="399.77" x2="560.40" y2="399.77" stroke="#3c3c3c" stroke-width="1.8"/>
<line x1="557.80" y1="364.50" x2="560.40" y2="364.50" stroke="#3c3c3c" stroke-width="1.8"/>
<line x1="557.80" y1="540.85" x2="557.80" y2="538.25" stroke="#3c3c3c" stroke-width="1.8"/>
<line x1="605.00" y1="540.85" x2="605.00" y2="538.25" stroke="#3c3c3c" stroke-width="1.8"/>
<line x1="652.20" y1="540.85" x2="652.20" y2="538.25" stroke="#3c3c3c" stroke-width="1.8"/>
<line x1="699.40" y1="540.85" x2="699.40" y2="538.25" stroke="#3c3c3c" stroke-width="1.8"/>
<text x="0" y="0" font-size="15.8" text-anchor="middle" fill="#262626" transform="translate(557.80,561.35) scale(0.93,1)">0</text>
<text x="0" y="0" font-size="15.8" text-anchor="middle" fill="#262626" transform="translate(605.00,561.35) scale(0.93,1)">0.2</text>
<text x="0" y="0" font-size="15.8" text-anchor="middle" fill="#262626" transform="translate(652.20,561.35) scale(0.93,1)">0.4</text>
<text x="0" y="0" font-size="15.8" text-anchor="middle" fill="#262626" transform="translate(699.40,561.35) scale(0.93,1)">0.6</text>
<line x1="140.00" y1="700.40" x2="140.00" y2="877.00" stroke="#262626" stroke-opacity="0.15" stroke-width="1.3"/>
<line x1="187.20" y1="700.40" x2="187.20" y2="877.00" stroke="#262626" stroke-opacity="0.15" stroke-width="1.3"/>
<line x1="234.40" y1="700.40" x2="234.40" y2="877.00" stroke="#262626" stroke-opacity="0.15" stroke-width="1.3"/>
<line x1="92.80" y1="841.68" x2="269.80" y2="841.68" stroke="#262626" stroke-opacity="0.15" stroke-width="1.3"/>
<line x1="92.80" y1="806.36" x2="269.80" y2="806.36" stroke="#262626" stroke-opacity="0.15" stroke-width="1.3"/>
<line x1="92.80" y1="771.04" x2="269.80" y2="771.04" stroke="#262626" stroke-opacity="0.15" stroke-width="1.3"/>
<line x1="92.80" y1="735.72" x2="269.80" y2="735.72" stroke="#262626" stroke-opacity="0.15" stroke-width="1.3"/>
<line x1="92.80" y1="700.40" x2="269.80" y2="700.40" stroke="#262626" stroke-opacity="0.15" stroke-width="1.3"/>
<text x="218.1" y="841.9" font-size="23.5" letter-spacing="2.2" fill="#000">CJD</text>
<polyline points="92.80,877.00 93.39,876.84 93.98,876.67 94.57,876.50 95.16,876.32 95.75,876.14 96.34,875.95 96.93,875.75 97.52,875.55 98.11,875.34 98.70,875.13 99.29,874.91 99.88,874.69 100.47,874.46 101.06,874.22 101.65,873.97 102.24,873.72 102.83,873.46 103.42,873.19 104.01,872.92 104.60,872.64 105.19,872.35 105.78,872.06 106.37,871.75 106.96,871.44 107.55,871.12 108.14,870.79 108.73,870.46 109.32,870.11 109.91,869.76 110.50,869.40 111.09,869.03 111.68,868.65 112.27,868.26 112.86,867.87 113.45,867.46 114.04,867.05 114.63,866.62 115.22,866.19 115.81,865.74 116.40,865.29 116.99,864.83 117.58,864.35 118.17,863.87 118.76,863.38 119.35,862.88 119.94,862.36 120.53,861.84 121.12,861.30 121.71,860.76 122.30,860.21 122.89,859.64 123.48,859.06 124.07,858.48 124.66,857.88 125.25,857.27 125.84,856.65 126.43,856.02 127.02,855.38 127.61,854.73 128.20,854.07 128.79,853.39 129.38,852.71 129.97,852.02 130.56,851.31 131.15,850.59 131.74,849.86 132.33,849.13 132.92,848.38 133.51,847.62 134.10,846.84 134.69,846.06 135.28,845.27 135.87,844.47 136.46,843.65 137.05,842.83 137.64,841.99 138.23,841.15 138.82,840.29 139.41,839.43 140.00,838.55 140.59,837.66 141.18,836.77 141.77,835.86 142.36,834.95 142.95,834.02 143.54,833.09 144.13,832.14 144.72,831.19 145.31,830.23 145.90,829.26 146.49,828.28 147.08,827.29 147.67,826.30 148.26,825.30 148.85,824.28 149.44,823.26 150.03,822.24 150.62,821.20 151.21,820.16 151.80,819.11 152.39,818.06 152.98,817.00 153.57,815.93 154.16,814.86 154.75,813.78 155.34,812.69 155.93,811.60 156.52,810.51 157.11,809.41 157.70,808.30 158.29,807.19 158.88,806.08 159.47,804.96 160.06,803.84 160.65,802.72 161.24,801.59 161.83,800.47 162.42,799.33 163.01,798.20 163.60,797.07 164.19,795.93 164.78,794.79 165.37,793.65 165.96,792.51 166.55,791.37 167.14,790.23 167.73,789.09 168.32,787.95 168.91,786.81 169.50,785.68 170.09,784.54 170.68,783.40 171.27,782.27 171.86,781.14 172.45,780.01 173.04,778.89 173.63,777.76 174.22,776.64 174.81,775.53 175.40,774.41 175.99,773.31 176.58,772.20 177.17,771.10 177.76,770.01 178.35,768.92 178.94,767.83 179.53,766.75 180.12,765.68 180.71,764.61 181.30,763.55 181.89,762.50 182.48,761.45 183.07,760.41 183.66,759.38 184.25,758.35 184.84,757.33 185.43,756.32 186.02,755.32 186.61,754.32 187.20,753.33 187.79,752.36 188.38,751.39 188.97,750.43 189.56,749.47 190.15,748.53 190.74,747.60 191.33,746.67 191.92,745.76 192.51,744.85 193.10,743.96 193.69,743.07 194.28,742.20 194.87,741.33 195.46,740.48 196.05,739.63 196.64,738.80 197.23,737.98 197.82,737.16 198.41,736.36 199.00,735.57 199.59,734.79 200.18,734.02 200.77,733.26 201.36,732.51 201.95,731.77 202.54,731.04 203.13,730.33 203.72,729.62 204.31,728.93 204.90,728.24 205.49,727.57 206.08,726.91 206.67,726.26 207.26,725.62 207.85,724.99 208.44,724.37 209.03,723.77 209.62,723.17 210.21,722.58 210.80,722.01 211.39,721.44 211.98,720.89 212.57,720.35 213.16,719.81 213.75,719.29 214.34,718.78 214.93,718.27 215.52,717.78 216.11,717.30 216.70,716.83 217.29,716.37 217.88,715.91 218.47,715.47 219.06,715.04 219.65,714.61 220.24,714.20 220.83,713.79 221.42,713.40 222.01,713.01 222.60,712.63 223.19,712.26 223.78,711.90 224.37,711.55 224.96,711.21 225.55,710.87 226.14,710.54 226.73,710.23 227.32,709.92 227.91,709.61 228.50,709.32 229.09,709.03 229.68,708.75 230.27,708.48 230.86,708.21 231.45,707.95 232.04,707.70 232.63,707.46 233.22,707.22 233.81,706.99 234.40,706.76 234.99,706.54 235.58,706.33 236.17,706.12 236.76,705.92 237.35,705.73 237.94,705.54 238.53,705.36 239.12,705.18 239.71,705.01 240.30,704.84 240.89,704.68 241.48,704.52 242.07,704.37 242.66,704.22 243.25,704.08 243.84,703.94 244.43,703.81 245.02,703.68 245.61,703.55 246.20,703.43 246.79,703.32 247.38,703.20 247.97,703.09 248.56,702.99 249.15,702.88 249.74,702.79 250.33,702.69 250.92,702.60 251.51,702.51 252.10,702.42 252.69,702.34 253.28,702.26 253.87,702.19 254.46,702.11 255.05,702.04 255.64,701.97 256.23,701.91 256.82,701.84 257.41,701.78 258.00,701.72 258.59,701.67 259.18,701.61 259.77,701.56 260.36,701.51 260.95,701.46 261.54,701.41 262.13,701.37 262.72,701.32 263.31,701.28 263.90,701.24 264.49,701.21 265.08,701.17 265.67,701.13 266.26,701.10 266.85,701.07 267.44,701.04 268.03,701.01 268.62,700.98 269.21,700.95 269.80,700.93" fill="none" stroke="#0000ff" stroke-width="1.55" stroke-linejoin="round"/>
<polyline points="92.80,877.00 93.39,875.89 93.98,874.74 94.57,873.56 95.16,872.35 95.75,871.10 96.34,869.82 96.93,868.51 97.52,867.17 98.11,865.79 98.70,864.38 99.29,862.94 99.88,861.46 100.47,859.96 101.06,858.42 101.65,856.85 102.24,855.25 102.83,853.62 103.42,851.96 104.01,850.27 104.60,848.55 105.19,846.80 105.78,845.03 106.37,843.23 106.96,841.41 107.55,839.56 108.14,837.69 108.73,835.79 109.32,833.87 109.91,831.94 110.50,829.98 111.09,828.00 111.68,826.01 112.27,824.00 112.86,821.98 113.45,819.95 114.04,817.90 114.63,815.84 115.22,813.77 115.81,811.69 116.40,809.61 116.99,807.52 117.58,805.43 118.17,803.33 118.76,801.24 119.35,799.14 119.94,797.04 120.53,794.95 121.12,792.87 121.71,790.79 122.30,788.71 122.89,786.65 123.48,784.59 124.07,782.55 124.66,780.52 125.25,778.50 125.84,776.50 126.43,774.51 127.02,772.54 127.61,770.59 128.20,768.66 128.79,766.75 129.38,764.87 129.97,763.00 130.56,761.16 131.15,759.35 131.74,757.56 132.33,755.79 132.92,754.06 133.51,752.35 134.10,750.67 134.69,749.02 135.28,747.40 135.87,745.82 136.46,744.26 137.05,742.73 137.64,741.24 138.23,739.77 138.82,738.34 139.41,736.94 140.00,735.58 140.59,734.25 141.18,732.95 141.77,731.68 142.36,730.45 142.95,729.25 143.54,728.08 144.13,726.95 144.72,725.84 145.31,724.77 145.90,723.74 146.49,722.73 147.08,721.76 147.67,720.81 148.26,719.90 148.85,719.02 149.44,718.17 150.03,717.34 150.62,716.55 151.21,715.78 151.80,715.05 152.39,714.34 152.98,713.65 153.57,713.00 154.16,712.36 154.75,711.76 155.34,711.18 155.93,710.62 156.52,710.08 157.11,709.57 157.70,709.08 158.29,708.61 158.88,708.17 159.47,707.74 160.06,707.33 160.65,706.94 161.24,706.57 161.83,706.22 162.42,705.88 163.01,705.56 163.60,705.25 164.19,704.97 164.78,704.69 165.37,704.43 165.96,704.18 166.55,703.95 167.14,703.73 167.73,703.52 168.32,703.32 168.91,703.13 169.50,702.96 170.09,702.79 170.68,702.63 171.27,702.49 171.86,702.35 172.45,702.21 173.04,702.09 173.63,701.98 174.22,701.87 174.81,701.76 175.40,701.67 175.99,701.58 176.58,701.49 177.17,701.42 177.76,701.34 178.35,701.27 178.94,701.21 179.53,701.15 180.12,701.09 180.71,701.04 181.30,700.99 181.89,700.95 182.48,700.90 183.07,700.86 183.66,700.83 184.25,700.79 184.84,700.76 185.43,700.73 186.02,700.71 186.61,700.68 187.20,700.66 187.79,700.64 188.38,700.62 188.97,700.60 189.56,700.58 190.15,700.57 190.74,700.55 191.33,700.54 191.92,700.53 192.51,700.52 193.10,700.51 193.69,700.50 194.28,700.49 194.87,700.48 195.46,700.47 196.05,700.47 196.64,700.46 197.23,700.46 197.82,700.45 198.41,700.45 199.00,700.44 199.59,700.44 200.18,700.43 200.77,700.43 201.36,700.43 201.95,700.43 202.54,700.42 203.13,700.42 203.72,700.42 204.31,700.42 204.90,700.41 205.49,700.41 206.08,700.41 206.67,700.41 207.26,700.41 207.85,700.41 208.44,700.41 209.03,700.41 209.62,700.41 210.21,700.41 210.80,700.41 211.39,700.40 211.98,700.40 212.57,700.40 213.16,700.40 213.75,700.40 214.34,700.40 214.93,700.40 215.52,700.40 216.11,700.40 216.70,700.40 217.29,700.40 217.88,700.40 218.47,700.40 219.06,700.40 219.65,700.40 220.24,700.40 220.83,700.40 221.42,700.40 222.01,700.40 222.60,700.40 223.19,700.40 223.78,700.40 224.37,700.40 224.96,700.40 225.55,700.40 226.14,700.40 226.73,700.40 227.32,700.40 227.91,700.40 228.50,700.40 229.09,700.40 229.68,700.40 230.27,700.40 230.86,700.40 231.45,700.40 232.04,700.40 232.63,700.40 233.22,700.40 233.81,700.40 234.40,700.40 234.99,700.40 235.58,700.40 236.17,700.40 236.76,700.40 237.35,700.40 237.94,700.40 238.53,700.40 239.12,700.40 239.71,700.40 240.30,700.40 240.89,700.40 241.48,700.40 242.07,700.40 242.66,700.40 243.25,700.40 243.84,700.40 244.43,700.40 245.02,700.40 245.61,700.40 246.20,700.40 246.79,700.40 247.38,700.40 247.97,700.40 248.56,700.40 249.15,700.40 249.74,700.40 250.33,700.40 250.92,700.40 251.51,700.40 252.10,700.40 252.69,700.40 253.28,700.40 253.87,700.40 254.46,700.40 255.05,700.40 255.64,700.40 256.23,700.40 256.82,700.40 257.41,700.40 258.00,700.40 258.59,700.40 259.18,700.40 259.77,700.40 260.36,700.40 260.95,700.40 261.54,700.40 262.13,700.40 262.72,700.40 263.31,700.40 263.90,700.40 264.49,700.40 265.08,700.40 265.67,700.40 266.26,700.40 266.85,700.40 267.44,700.40 268.03,700.40 268.62,700.40 269.21,700.40 269.80,700.40" fill="none" stroke="#ff0000" stroke-width="1.55" stroke-linejoin="round"/>
<polyline points="92.80,877.00 93.39,876.47 93.98,875.90 94.57,875.30 95.16,874.66 95.75,873.99 96.34,873.27 96.93,872.51 97.52,871.71 98.11,870.86 98.70,869.96 99.29,869.02 99.88,868.03 100.47,866.99 101.06,865.90 101.65,864.76 102.24,863.56 102.83,862.31 103.42,861.01 104.01,859.65 104.60,858.24 105.19,856.77 105.78,855.24 106.37,853.66 106.96,852.02 107.55,850.32 108.14,848.57 108.73,846.76 109.32,844.90 109.91,842.98 110.50,841.01 111.09,838.99 111.68,836.91 112.27,834.79 112.86,832.62 113.45,830.40 114.04,828.14 114.63,825.84 115.22,823.49 115.81,821.11 116.40,818.70 116.99,816.25 117.58,813.77 118.17,811.27 118.76,808.74 119.35,806.19 119.94,803.62 120.53,801.03 121.12,798.44 121.71,795.84 122.30,793.23 122.89,790.62 123.48,788.01 124.07,785.41 124.66,782.82 125.25,780.24 125.84,777.67 126.43,775.12 127.02,772.59 127.61,770.09 128.20,767.61 128.79,765.16 129.38,762.75 129.97,760.37 130.56,758.02 131.15,755.72 131.74,753.46 132.33,751.25 132.92,749.08 133.51,746.96 134.10,744.89 134.69,742.86 135.28,740.90 135.87,738.98 136.46,737.12 137.05,735.31 137.64,733.56 138.23,731.87 138.82,730.23 139.41,728.65 140.00,727.12 140.59,725.65 141.18,724.24 141.77,722.88 142.36,721.58 142.95,720.33 143.54,719.14 144.13,718.00 144.72,716.91 145.31,715.87 145.90,714.88 146.49,713.94 147.08,713.05 147.67,712.20 148.26,711.40 148.85,710.64 149.44,709.93 150.03,709.25 150.62,708.61 151.21,708.01 151.80,707.45 152.39,706.92 152.98,706.43 153.57,705.96 154.16,705.53 154.75,705.12 155.34,704.74 155.93,704.39 156.52,704.06 157.11,703.75 157.70,703.47 158.29,703.21 158.88,702.97 159.47,702.74 160.06,702.53 160.65,702.34 161.24,702.17 161.83,702.00 162.42,701.86 163.01,701.72 163.60,701.59 164.19,701.48 164.78,701.38 165.37,701.28 165.96,701.19 166.55,701.11 167.14,701.04 167.73,700.98 168.32,700.92 168.91,700.86 169.50,700.81 170.09,700.77 170.68,700.73 171.27,700.69 171.86,700.66 172.45,700.63 173.04,700.61 173.63,700.58 174.22,700.56 174.81,700.54 175.40,700.53 175.99,700.51 176.58,700.50 177.17,700.49 177.76,700.48 178.35,700.47 178.94,700.46 179.53,700.45 180.12,700.45 180.71,700.44 181.30,700.43 181.89,700.43 182.48,700.43 183.07,700.42 183.66,700.42 184.25,700.42 184.84,700.42 185.43,700.41 186.02,700.41 186.61,700.41 187.20,700.41 187.79,700.41 188.38,700.41 188.97,700.41 189.56,700.40 190.15,700.40 190.74,700.40 191.33,700.40 191.92,700.40 192.51,700.40 193.10,700.40 193.69,700.40 194.28,700.40 194.87,700.40 195.46,700.40 196.05,700.40 196.64,700.40 197.23,700.40 197.82,700.40 198.41,700.40 199.00,700.40 199.59,700.40 200.18,700.40 200.77,700.40 201.36,700.40 201.95,700.40 202.54,700.40 203.13,700.40 203.72,700.40 204.31,700.40 204.90,700.40 205.49,700.40 206.08,700.40 206.67,700.40 207.26,700.40 207.85,700.40 208.44,700.40 209.03,700.40 209.62,700.40 210.21,700.40 210.80,700.40 211.39,700.40 211.98,700.40 212.57,700.40 213.16,700.40 213.75,700.40 214.34,700.40 214.93,700.40 215.52,700.40 216.11,700.40 216.70,700.40 217.29,700.40 217.88,700.40 218.47,700.40 219.06,700.40 219.65,700.40 220.24,700.40 220.83,700.40 221.42,700.40 222.01,700.40 222.60,700.40 223.19,700.40 223.78,700.40 224.37,700.40 224.96,700.40 225.55,700.40 226.14,700.40 226.73,700.40 227.32,700.40 227.91,700.40 228.50,700.40 229.09,700.40 229.68,700.40 230.27,700.40 230.86,700.40 231.45,700.40 232.04,700.40 232.63,700.40 233.22,700.40 233.81,700.40 234.40,700.40 234.99,700.40 235.58,700.40 236.17,700.40 236.76,700.40 237.35,700.40 237.94,700.40 238.53,700.40 239.12,700.40 239.71,700.40 240.30,700.40 240.89,700.40 241.48,700.40 242.07,700.40 242.66,700.40 243.25,700.40 243.84,700.40 244.43,700.40 245.02,700.40 245.61,700.40 246.20,700.40 246.79,700.40 247.38,700.40 247.97,700.40 248.56,700.40 249.15,700.40 249.74,700.40 250.33,700.40 250.92,700.40 251.51,700.40 252.10,700.40 252.69,700.40 253.28,700.40 253.87,700.40 254.46,700.40 255.05,700.40 255.64,700.40 256.23,700.40 256.82,700.40 257.41,700.40 258.00,700.40 258.59,700.40 259.18,700.40 259.77,700.40 260.36,700.40 260.95,700.40 261.54,700.40 262.13,700.40 262.72,700.40 263.31,700.40 263.90,700.40 264.49,700.40 265.08,700.40 265.67,700.40 266.26,700.40 266.85,700.40 267.44,700.40 268.03,700.40 268.62,700.40 269.21,700.40 269.80,700.40" fill="none" stroke="#ff00ff" stroke-width="1.55" stroke-linejoin="round"/>
<circle cx="132.14" cy="845.92" r="4.9" fill="#0000ff"/>
<circle cx="151.80" cy="825.08" r="6.9" fill="#0000ff"/>
<circle cx="171.39" cy="775.28" r="6.2" fill="#0000ff"/>
<circle cx="191.14" cy="739.25" r="2.5" fill="#0000ff"/>
<circle cx="210.80" cy="747.38" r="1.0" fill="#0000ff"/>
<circle cx="112.46" cy="826.85" r="9.4" fill="#ff0000"/>
<circle cx="132.14" cy="744.20" r="6.4" fill="#ff0000"/>
<circle cx="151.80" cy="741.72" r="2.2" fill="#ff0000"/>
<circle cx="112.46" cy="836.03" r="9.4" fill="#ff00ff"/>
<circle cx="132.14" cy="767.15" r="7.9" fill="#ff00ff"/>
<circle cx="151.80" cy="722.65" r="2.7" fill="#ff00ff"/>
<circle cx="171.39" cy="731.83" r="1.0" fill="#ff00ff"/>
<line x1="92.80" y1="699.20" x2="92.80" y2="877.90" stroke="#3c3c3c" stroke-width="1.8"/>
<line x1="91.90" y1="877.00" x2="269.80" y2="877.00" stroke="#3c3c3c" stroke-width="1.8"/>
<line x1="92.80" y1="877.00" x2="95.40" y2="877.00" stroke="#3c3c3c" stroke-width="1.8"/>
<line x1="92.80" y1="841.68" x2="95.40" y2="841.68" stroke="#3c3c3c" stroke-width="1.8"/>
<line x1="92.80" y1="806.36" x2="95.40" y2="806.36" stroke="#3c3c3c" stroke-width="1.8"/>
<line x1="92.80" y1="771.04" x2="95.40" y2="771.04" stroke="#3c3c3c" stroke-width="1.8"/>
<line x1="92.80" y1="735.72" x2="95.40" y2="735.72" stroke="#3c3c3c" stroke-width="1.8"/>
<line x1="92.80" y1="700.40" x2="95.40" y2="700.40" stroke="#3c3c3c" stroke-width="1.8"/>
<line x1="92.80" y1="877.00" x2="92.80" y2="874.40" stroke="#3c3c3c" stroke-width="1.8"/>
<line x1="140.00" y1="877.00" x2="140.00" y2="874.40" stroke="#3c3c3c" stroke-width="1.8"/>
<line x1="187.20" y1="877.00" x2="187.20" y2="874.40" stroke="#3c3c3c" stroke-width="1.8"/>
<line x1="234.40" y1="877.00" x2="234.40" y2="874.40" stroke="#3c3c3c" stroke-width="1.8"/>
<text x="0" y="0" font-size="15.8" text-anchor="middle" fill="#262626" transform="translate(92.80,897.50) scale(0.93,1)">0</text>
<text x="0" y="0" font-size="15.8" text-anchor="middle" fill="#262626" transform="translate(140.00,897.50) scale(0.93,1)">0.2</text>
<text x="0" y="0" font-size="15.8" text-anchor="middle" fill="#262626" transform="translate(187.20,897.50) scale(0.93,1)">0.4</text>
<text x="0" y="0" font-size="15.8" text-anchor="middle" fill="#262626" transform="translate(234.40,897.50) scale(0.93,1)">0.6</text>
<path d="M85.20,706.60 V695.80 L84.40,695.80 Q83.20,698.00 80.60,698.80" fill="none" stroke="#262626" stroke-width="1.45"/>
<text x="0" y="0" font-size="15.8" text-anchor="end" fill="#262626" transform="translate(88.20,883.00) scale(0.93,1)">0.5</text>
<text x="0" y="0" font-size="15.8" text-anchor="end" fill="#262626" transform="translate(88.20,847.68) scale(0.93,1)">0.6</text>
<text x="0" y="0" font-size="15.8" text-anchor="end" fill="#262626" transform="translate(88.20,812.36) scale(0.93,1)">0.7</text>
<text x="0" y="0" font-size="15.8" text-anchor="end" fill="#262626" transform="translate(88.20,777.04) scale(0.93,1)">0.8</text>
<text x="0" y="0" font-size="15.8" text-anchor="end" fill="#262626" transform="translate(88.20,741.72) scale(0.93,1)">0.9</text>
<line x1="373.10" y1="700.40" x2="373.10" y2="876.90" stroke="#262626" stroke-opacity="0.15" stroke-width="1.3"/>
<line x1="420.30" y1="700.40" x2="420.30" y2="876.90" stroke="#262626" stroke-opacity="0.15" stroke-width="1.3"/>
<line x1="467.50" y1="700.40" x2="467.50" y2="876.90" stroke="#262626" stroke-opacity="0.15" stroke-width="1.3"/>
<line x1="325.90" y1="841.60" x2="502.90" y2="841.60" stroke="#262626" stroke-opacity="0.15" stroke-width="1.3"/>
<line x1="325.90" y1="806.30" x2="502.90" y2="806.30" stroke="#262626" stroke-opacity="0.15" stroke-width="1.3"/>
<line x1="325.90" y1="771.00" x2="502.90" y2="771.00" stroke="#262626" stroke-opacity="0.15" stroke-width="1.3"/>
<line x1="325.90" y1="735.70" x2="502.90" y2="735.70" stroke="#262626" stroke-opacity="0.15" stroke-width="1.3"/>
<line x1="325.90" y1="700.40" x2="502.90" y2="700.40" stroke="#262626" stroke-opacity="0.15" stroke-width="1.3"/>
<text x="452.9" y="843.9" font-size="23.5" letter-spacing="2.3" fill="#000">CJM</text>
<polyline points="325.90,876.90 326.49,876.78 327.08,876.65 327.67,876.52 328.26,876.38 328.85,876.25 329.44,876.11 330.03,875.96 330.62,875.82 331.21,875.67 331.80,875.51 332.39,875.36 332.98,875.20 333.57,875.03 334.16,874.86 334.75,874.69 335.34,874.52 335.93,874.34 336.52,874.16 337.11,873.97 337.70,873.78 338.29,873.58 338.88,873.38 339.47,873.18 340.06,872.97 340.65,872.76 341.24,872.54 341.83,872.32 342.42,872.10 343.01,871.87 343.60,871.63 344.19,871.39 344.78,871.15 345.37,870.90 345.96,870.65 346.55,870.39 347.14,870.13 347.73,869.86 348.32,869.59 348.91,869.31 349.50,869.03 350.09,868.74 350.68,868.44 351.27,868.14 351.86,867.84 352.45,867.53 353.04,867.22 353.63,866.90 354.22,866.57 354.81,866.24 355.40,865.90 355.99,865.56 356.58,865.21 357.17,864.85 357.76,864.49 358.35,864.13 358.94,863.76 359.53,863.38 360.12,862.99 360.71,862.60 361.30,862.21 361.89,861.81 362.48,861.40 363.07,860.98 363.66,860.56 364.25,860.14 364.84,859.70 365.43,859.26 366.02,858.82 366.61,858.37 367.20,857.91 367.79,857.44 368.38,856.97 368.97,856.50 369.56,856.01 370.15,855.52 370.74,855.03 371.33,854.53 371.92,854.02 372.51,853.50 373.10,852.98 373.69,852.45 374.28,851.92 374.87,851.37 375.46,850.83 376.05,850.27 376.64,849.71 377.23,849.15 377.82,848.57 378.41,847.99 379.00,847.41 379.59,846.81 380.18,846.21 380.77,845.61 381.36,845.00 381.95,844.38 382.54,843.76 383.13,843.13 383.72,842.49 384.31,841.85 384.90,841.20 385.49,840.54 386.08,839.88 386.67,839.22 387.26,838.54 387.85,837.87 388.44,837.18 389.03,836.49 389.62,835.80 390.21,835.09 390.80,834.39 391.39,833.67 391.98,832.96 392.57,832.23 393.16,831.50 393.75,830.77 394.34,830.03 394.93,829.28 395.52,828.53 396.11,827.78 396.70,827.02 397.29,826.26 397.88,825.49 398.47,824.71 399.06,823.93 399.65,823.15 400.24,822.36 400.83,821.57 401.42,820.77 402.01,819.97 402.60,819.17 403.19,818.36 403.78,817.55 404.37,816.73 404.96,815.91 405.55,815.09 406.14,814.26 406.73,813.43 407.32,812.60 407.91,811.76 408.50,810.92 409.09,810.08 409.68,809.24 410.27,808.39 410.86,807.54 411.45,806.69 412.04,805.83 412.63,804.97 413.22,804.11 413.81,803.25 414.40,802.39 414.99,801.53 415.58,800.66 416.17,799.79 416.76,798.92 417.35,798.05 417.94,797.18 418.53,796.31 419.12,795.44 419.71,794.56 420.30,793.69 420.89,792.81 421.48,791.94 422.07,791.06 422.66,790.19 423.25,789.31 423.84,788.44 424.43,787.56 425.02,786.69 425.61,785.82 426.20,784.94 426.79,784.07 427.38,783.20 427.97,782.33 428.56,781.46 429.15,780.60 429.74,779.73 430.33,778.87 430.92,778.01 431.51,777.15 432.10,776.29 432.69,775.43 433.28,774.58 433.87,773.72 434.46,772.88 435.05,772.03 435.64,771.19 436.23,770.34 436.82,769.51 437.41,768.67 438.00,767.84 438.59,767.01 439.18,766.18 439.77,765.36 440.36,764.54 440.95,763.73 441.54,762.92 442.13,762.11 442.72,761.31 443.31,760.51 443.90,759.72 444.49,758.93 445.08,758.14 445.67,757.36 446.26,756.58 446.85,755.81 447.44,755.04 448.03,754.28 448.62,753.52 449.21,752.77 449.80,752.02 450.39,751.28 450.98,750.54 451.57,749.81 452.16,749.08 452.75,748.36 453.34,747.64 453.93,746.93 454.52,746.23 455.11,745.53 455.70,744.83 456.29,744.15 456.88,743.46 457.47,742.79 458.06,742.12 458.65,741.45 459.24,740.79 459.83,740.14 460.42,739.50 461.01,738.86 461.60,738.22 462.19,737.59 462.78,736.97 463.37,736.36 463.96,735.75 464.55,735.15 465.14,734.55 465.73,733.96 466.32,733.38 466.91,732.80 467.50,732.23 468.09,731.66 468.68,731.11 469.27,730.56 469.86,730.01 470.45,729.47 471.04,728.94 471.63,728.41 472.22,727.89 472.81,727.38 473.40,726.87 473.99,726.37 474.58,725.88 475.17,725.39 475.76,724.91 476.35,724.44 476.94,723.97 477.53,723.51 478.12,723.05 478.71,722.60 479.30,722.16 479.89,721.72 480.48,721.29 481.07,720.87 481.66,720.45 482.25,720.04 482.84,719.63 483.43,719.23 484.02,718.84 484.61,718.45 485.20,718.07 485.79,717.70 486.38,717.33 486.97,716.96 487.56,716.60 488.15,716.25 488.74,715.91 489.33,715.57 489.92,715.23 490.51,714.90 491.10,714.58 491.69,714.26 492.28,713.95 492.87,713.64 493.46,713.34 494.05,713.04 494.64,712.75 495.23,712.46 495.82,712.18 496.41,711.90 497.00,711.63 497.59,711.37 498.18,711.11 498.77,710.85 499.36,710.60 499.95,710.35 500.54,710.11 501.13,709.87 501.72,709.64 502.31,709.41 502.90,709.19" fill="none" stroke="#0000ff" stroke-width="1.55" stroke-linejoin="round"/>
<polyline points="325.90,876.90 326.49,876.23 327.08,875.54 327.67,874.83 328.26,874.09 328.85,873.33 329.44,872.55 330.03,871.75 330.62,870.92 331.21,870.07 331.80,869.20 332.39,868.30 332.98,867.38 333.57,866.44 334.16,865.47 334.75,864.48 335.34,863.46 335.93,862.41 336.52,861.35 337.11,860.26 337.70,859.14 338.29,858.00 338.88,856.84 339.47,855.65 340.06,854.43 340.65,853.20 341.24,851.94 341.83,850.65 342.42,849.35 343.01,848.02 343.60,846.66 344.19,845.29 344.78,843.89 345.37,842.47 345.96,841.03 346.55,839.57 347.14,838.09 347.73,836.59 348.32,835.08 348.91,833.54 349.50,831.98 350.09,830.41 350.68,828.82 351.27,827.22 351.86,825.59 352.45,823.96 353.04,822.31 353.63,820.65 354.22,818.97 354.81,817.29 355.40,815.59 355.99,813.88 356.58,812.17 357.17,810.44 357.76,808.71 358.35,806.97 358.94,805.23 359.53,803.48 360.12,801.73 360.71,799.97 361.30,798.22 361.89,796.46 362.48,794.70 363.07,792.95 363.66,791.19 364.25,789.44 364.84,787.69 365.43,785.95 366.02,784.21 366.61,782.48 367.20,780.75 367.79,779.04 368.38,777.33 368.97,775.63 369.56,773.94 370.15,772.27 370.74,770.60 371.33,768.95 371.92,767.32 372.51,765.70 373.10,764.09 373.69,762.50 374.28,760.92 374.87,759.37 375.46,757.83 376.05,756.31 376.64,754.81 377.23,753.32 377.82,751.86 378.41,750.42 379.00,749.00 379.59,747.60 380.18,746.23 380.77,744.87 381.36,743.54 381.95,742.23 382.54,740.95 383.13,739.68 383.72,738.44 384.31,737.23 384.90,736.04 385.49,734.87 386.08,733.73 386.67,732.61 387.26,731.52 387.85,730.45 388.44,729.41 389.03,728.39 389.62,727.39 390.21,726.42 390.80,725.47 391.39,724.55 391.98,723.65 392.57,722.78 393.16,721.92 393.75,721.10 394.34,720.29 394.93,719.51 395.52,718.75 396.11,718.01 396.70,717.30 397.29,716.61 397.88,715.93 398.47,715.28 399.06,714.65 399.65,714.05 400.24,713.46 400.83,712.89 401.42,712.34 402.01,711.81 402.60,711.30 403.19,710.80 403.78,710.33 404.37,709.87 404.96,709.43 405.55,709.01 406.14,708.60 406.73,708.20 407.32,707.83 407.91,707.47 408.50,707.12 409.09,706.78 409.68,706.46 410.27,706.16 410.86,705.87 411.45,705.58 412.04,705.32 412.63,705.06 413.22,704.81 413.81,704.58 414.40,704.35 414.99,704.14 415.58,703.94 416.17,703.74 416.76,703.56 417.35,703.38 417.94,703.21 418.53,703.05 419.12,702.90 419.71,702.76 420.30,702.62 420.89,702.49 421.48,702.37 422.07,702.25 422.66,702.14 423.25,702.04 423.84,701.94 424.43,701.84 425.02,701.75 425.61,701.67 426.20,701.59 426.79,701.52 427.38,701.44 427.97,701.38 428.56,701.32 429.15,701.26 429.74,701.20 430.33,701.15 430.92,701.10 431.51,701.05 432.10,701.01 432.69,700.97 433.28,700.93 433.87,700.89 434.46,700.86 435.05,700.83 435.64,700.80 436.23,700.77 436.82,700.74 437.41,700.72 438.00,700.70 438.59,700.67 439.18,700.65 439.77,700.64 440.36,700.62 440.95,700.60 441.54,700.59 442.13,700.57 442.72,700.56 443.31,700.55 443.90,700.54 444.49,700.53 445.08,700.52 445.67,700.51 446.26,700.50 446.85,700.49 447.44,700.48 448.03,700.48 448.62,700.47 449.21,700.47 449.80,700.46 450.39,700.46 450.98,700.45 451.57,700.45 452.16,700.44 452.75,700.44 453.34,700.44 453.93,700.43 454.52,700.43 455.11,700.43 455.70,700.43 456.29,700.42 456.88,700.42 457.47,700.42 458.06,700.42 458.65,700.42 459.24,700.41 459.83,700.41 460.42,700.41 461.01,700.41 461.60,700.41 462.19,700.41 462.78,700.41 463.37,700.41 463.96,700.41 464.55,700.41 465.14,700.41 465.73,700.41 466.32,700.40 466.91,700.40 467.50,700.40 468.09,700.40 468.68,700.40 469.27,700.40 469.86,700.40 470.45,700.40 471.04,700.40 471.63,700.40 472.22,700.40 472.81,700.40 473.40,700.40 473.99,700.40 474.58,700.40 475.17,700.40 475.76,700.40 476.35,700.40 476.94,700.40 477.53,700.40 478.12,700.40 478.71,700.40 479.30,700.40 479.89,700.40 480.48,700.40 481.07,700.40 481.66,700.40 482.25,700.40 482.84,700.40 483.43,700.40 484.02,700.40 484.61,700.40 485.20,700.40 485.79,700.40 486.38,700.40 486.97,700.40 487.56,700.40 488.15,700.40 488.74,700.40 489.33,700.40 489.92,700.40 490.51,700.40 491.10,700.40 491.69,700.40 492.28,700.40 492.87,700.40 493.46,700.40 494.05,700.40 494.64,700.40 495.23,700.40 495.82,700.40 496.41,700.40 497.00,700.40 497.59,700.40 498.18,700.40 498.77,700.40 499.36,700.40 499.95,700.40 500.54,700.40 501.13,700.40 501.72,700.40 502.31,700.40 502.90,700.40" fill="none" stroke="#ff0000" stroke-width="1.55" stroke-linejoin="round"/>
<polyline points="325.90,876.90 326.49,876.16 327.08,875.39 327.67,874.60 328.26,873.78 328.85,872.92 329.44,872.04 330.03,871.13 330.62,870.20 331.21,869.23 331.80,868.23 332.39,867.20 332.98,866.13 333.57,865.04 334.16,863.92 334.75,862.77 335.34,861.58 335.93,860.36 336.52,859.11 337.11,857.84 337.70,856.53 338.29,855.18 338.88,853.81 339.47,852.41 340.06,850.98 340.65,849.51 341.24,848.02 341.83,846.50 342.42,844.95 343.01,843.37 343.60,841.77 344.19,840.13 344.78,838.48 345.37,836.79 345.96,835.08 346.55,833.35 347.14,831.59 347.73,829.82 348.32,828.02 348.91,826.20 349.50,824.36 350.09,822.50 350.68,820.63 351.27,818.74 351.86,816.84 352.45,814.92 353.04,812.99 353.63,811.05 354.22,809.09 354.81,807.13 355.40,805.17 355.99,803.19 356.58,801.21 357.17,799.23 357.76,797.25 358.35,795.26 358.94,793.28 359.53,791.29 360.12,789.32 360.71,787.34 361.30,785.37 361.89,783.41 362.48,781.46 363.07,779.51 363.66,777.58 364.25,775.66 364.84,773.76 365.43,771.86 366.02,769.99 366.61,768.13 367.20,766.29 367.79,764.47 368.38,762.66 368.97,760.88 369.56,759.13 370.15,757.39 370.74,755.68 371.33,753.99 371.92,752.33 372.51,750.69 373.10,749.08 373.69,747.50 374.28,745.95 374.87,744.42 375.46,742.93 376.05,741.46 376.64,740.02 377.23,738.62 377.82,737.24 378.41,735.90 379.00,734.58 379.59,733.30 380.18,732.05 380.77,730.82 381.36,729.64 381.95,728.48 382.54,727.35 383.13,726.25 383.72,725.19 384.31,724.15 384.90,723.15 385.49,722.18 386.08,721.23 386.67,720.32 387.26,719.44 387.85,718.58 388.44,717.75 389.03,716.96 389.62,716.19 390.21,715.44 390.80,714.73 391.39,714.04 391.98,713.37 392.57,712.73 393.16,712.12 393.75,711.53 394.34,710.96 394.93,710.42 395.52,709.90 396.11,709.40 396.70,708.92 397.29,708.46 397.88,708.03 398.47,707.61 399.06,707.21 399.65,706.83 400.24,706.47 400.83,706.12 401.42,705.79 402.01,705.48 402.60,705.18 403.19,704.90 403.78,704.63 404.37,704.37 404.96,704.13 405.55,703.90 406.14,703.68 406.73,703.48 407.32,703.28 407.91,703.10 408.50,702.93 409.09,702.76 409.68,702.61 410.27,702.46 410.86,702.32 411.45,702.20 412.04,702.07 412.63,701.96 413.22,701.85 413.81,701.75 414.40,701.66 414.99,701.57 415.58,701.48 416.17,701.41 416.76,701.33 417.35,701.27 417.94,701.20 418.53,701.14 419.12,701.09 419.71,701.04 420.30,700.99 420.89,700.94 421.48,700.90 422.07,700.86 422.66,700.83 423.25,700.79 423.84,700.76 424.43,700.73 425.02,700.71 425.61,700.68 426.20,700.66 426.79,700.64 427.38,700.62 427.97,700.60 428.56,700.58 429.15,700.57 429.74,700.55 430.33,700.54 430.92,700.53 431.51,700.52 432.10,700.51 432.69,700.50 433.28,700.49 433.87,700.48 434.46,700.47 435.05,700.47 435.64,700.46 436.23,700.46 436.82,700.45 437.41,700.45 438.00,700.44 438.59,700.44 439.18,700.43 439.77,700.43 440.36,700.43 440.95,700.43 441.54,700.42 442.13,700.42 442.72,700.42 443.31,700.42 443.90,700.42 444.49,700.41 445.08,700.41 445.67,700.41 446.26,700.41 446.85,700.41 447.44,700.41 448.03,700.41 448.62,700.41 449.21,700.41 449.80,700.41 450.39,700.40 450.98,700.40 451.57,700.40 452.16,700.40 452.75,700.40 453.34,700.40 453.93,700.40 454.52,700.40 455.11,700.40 455.70,700.40 456.29,700.40 456.88,700.40 457.47,700.40 458.06,700.40 458.65,700.40 459.24,700.40 459.83,700.40 460.42,700.40 461.01,700.40 461.60,700.40 462.19,700.40 462.78,700.40 463.37,700.40 463.96,700.40 464.55,700.40 465.14,700.40 465.73,700.40 466.32,700.40 466.91,700.40 467.50,700.40 468.09,700.40 468.68,700.40 469.27,700.40 469.86,700.40 470.45,700.40 471.04,700.40 471.63,700.40 472.22,700.40 472.81,700.40 473.40,700.40 473.99,700.40 474.58,700.40 475.17,700.40 475.76,700.40 476.35,700.40 476.94,700.40 477.53,700.40 478.12,700.40 478.71,700.40 479.30,700.40 479.89,700.40 480.48,700.40 481.07,700.40 481.66,700.40 482.25,700.40 482.84,700.40 483.43,700.40 484.02,700.40 484.61,700.40 485.20,700.40 485.79,700.40 486.38,700.40 486.97,700.40 487.56,700.40 488.15,700.40 488.74,700.40 489.33,700.40 489.92,700.40 490.51,700.40 491.10,700.40 491.69,700.40 492.28,700.40 492.87,700.40 493.46,700.40 494.05,700.40 494.64,700.40 495.23,700.40 495.82,700.40 496.41,700.40 497.00,700.40 497.59,700.40 498.18,700.40 498.77,700.40 499.36,700.40 499.95,700.40 500.54,700.40 501.13,700.40 501.72,700.40 502.31,700.40 502.90,700.40" fill="none" stroke="#ff00ff" stroke-width="1.55" stroke-linejoin="round"/>
<circle cx="365.24" cy="853.25" r="3.0" fill="#0000ff"/>
<circle cx="384.90" cy="850.42" r="4.9" fill="#0000ff"/>
<circle cx="404.49" cy="809.48" r="5.9" fill="#0000ff"/>
<circle cx="424.24" cy="792.18" r="5.2" fill="#0000ff"/>
<circle cx="443.90" cy="766.41" r="3.2" fill="#0000ff"/>
<circle cx="463.56" cy="746.29" r="1.5" fill="#0000ff"/>
<circle cx="345.56" cy="839.31" r="6.0" fill="#ff0000"/>
<circle cx="365.24" cy="800.65" r="7.9" fill="#ff0000"/>
<circle cx="384.90" cy="734.99" r="4.4" fill="#ff0000"/>
<circle cx="404.49" cy="720.87" r="1.5" fill="#ff0000"/>
<circle cx="424.24" cy="759.35" r="0.8" fill="#ff0000"/>
<circle cx="345.56" cy="832.77" r="9.4" fill="#ff00ff"/>
<circle cx="365.24" cy="769.94" r="7.9" fill="#ff00ff"/>
<circle cx="384.90" cy="718.40" r="3.0" fill="#ff00ff"/>
<circle cx="404.49" cy="700.40" r="1.0" fill="#ff00ff"/>
<line x1="325.90" y1="699.20" x2="325.90" y2="877.80" stroke="#3c3c3c" stroke-width="1.8"/>
<line x1="325.00" y1="876.90" x2="502.90" y2="876.90" stroke="#3c3c3c" stroke-width="1.8"/>
<line x1="325.90" y1="876.90" x2="328.50" y2="876.90" stroke="#3c3c3c" stroke-width="1.8"/>
<line x1="325.90" y1="841.60" x2="328.50" y2="841.60" stroke="#3c3c3c" stroke-width="1.8"/>
<line x1="325.90" y1="806.30" x2="328.50" y2="806.30" stroke="#3c3c3c" stroke-width="1.8"/>
<line x1="325.90" y1="771.00" x2="328.50" y2="771.00" stroke="#3c3c3c" stroke-width="1.8"/>
<line x1="325.90" y1="735.70" x2="328.50" y2="735.70" stroke="#3c3c3c" stroke-width="1.8"/>
<line x1="325.90" y1="700.40" x2="328.50" y2="700.40" stroke="#3c3c3c" stroke-width="1.8"/>
<line x1="325.90" y1="876.90" x2="325.90" y2="874.30" stroke="#3c3c3c" stroke-width="1.8"/>
<line x1="373.10" y1="876.90" x2="373.10" y2="874.30" stroke="#3c3c3c" stroke-width="1.8"/>
<line x1="420.30" y1="876.90" x2="420.30" y2="874.30" stroke="#3c3c3c" stroke-width="1.8"/>
<line x1="467.50" y1="876.90" x2="467.50" y2="874.30" stroke="#3c3c3c" stroke-width="1.8"/>
<text x="0" y="0" font-size="15.8" text-anchor="middle" fill="#262626" transform="translate(325.90,897.40) scale(0.93,1)">0</text>
<text x="0" y="0" font-size="15.8" text-anchor="middle" fill="#262626" transform="translate(373.10,897.40) scale(0.93,1)">0.2</text>
<text x="0" y="0" font-size="15.8" text-anchor="middle" fill="#262626" transform="translate(420.30,897.40) scale(0.93,1)">0.4</text>
<text x="0" y="0" font-size="15.8" text-anchor="middle" fill="#262626" transform="translate(467.50,897.40) scale(0.93,1)">0.6</text>
<line x1="606.00" y1="700.90" x2="606.00" y2="877.20" stroke="#262626" stroke-opacity="0.15" stroke-width="1.3"/>
<line x1="653.20" y1="700.90" x2="653.20" y2="877.20" stroke="#262626" stroke-opacity="0.15" stroke-width="1.3"/>
<line x1="700.40" y1="700.90" x2="700.40" y2="877.20" stroke="#262626" stroke-opacity="0.15" stroke-width="1.3"/>
<line x1="558.80" y1="841.94" x2="735.80" y2="841.94" stroke="#262626" stroke-opacity="0.15" stroke-width="1.3"/>
<line x1="558.80" y1="806.68" x2="735.80" y2="806.68" stroke="#262626" stroke-opacity="0.15" stroke-width="1.3"/>
<line x1="558.80" y1="771.42" x2="735.80" y2="771.42" stroke="#262626" stroke-opacity="0.15" stroke-width="1.3"/>
<line x1="558.80" y1="736.16" x2="735.80" y2="736.16" stroke="#262626" stroke-opacity="0.15" stroke-width="1.3"/>
<line x1="558.80" y1="700.90" x2="735.80" y2="700.90" stroke="#262626" stroke-opacity="0.15" stroke-width="1.3"/>
<text x="684.0" y="842.2" font-size="23.5" letter-spacing="0" fill="#000">RAR</text>
<polyline points="558.80,877.20 559.39,877.17 559.98,877.15 560.57,877.12 561.16,877.09 561.75,877.07 562.34,877.04 562.93,877.01 563.52,876.97 564.11,876.94 564.70,876.91 565.29,876.88 565.88,876.84 566.47,876.80 567.06,876.77 567.65,876.73 568.24,876.69 568.83,876.65 569.42,876.61 570.01,876.56 570.60,876.52 571.19,876.47 571.78,876.43 572.37,876.38 572.96,876.33 573.55,876.28 574.14,876.23 574.73,876.17 575.32,876.12 575.91,876.06 576.50,876.00 577.09,875.94 577.68,875.88 578.27,875.82 578.86,875.75 579.45,875.69 580.04,875.62 580.63,875.55 581.22,875.48 581.81,875.40 582.40,875.33 582.99,875.25 583.58,875.17 584.17,875.09 584.76,875.00 585.35,874.92 585.94,874.83 586.53,874.74 587.12,874.65 587.71,874.55 588.30,874.46 588.89,874.36 589.48,874.26 590.07,874.15 590.66,874.04 591.25,873.94 591.84,873.82 592.43,873.71 593.02,873.59 593.61,873.47 594.20,873.35 594.79,873.22 595.38,873.10 595.97,872.96 596.56,872.83 597.15,872.69 597.74,872.55 598.33,872.41 598.92,872.26 599.51,872.11 600.10,871.96 600.69,871.80 601.28,871.64 601.87,871.48 602.46,871.32 603.05,871.15 603.64,870.97 604.23,870.80 604.82,870.61 605.41,870.43 606.00,870.24 606.59,870.05 607.18,869.85 607.77,869.65 608.36,869.45 608.95,869.24 609.54,869.03 610.13,868.82 610.72,868.60 611.31,868.37 611.90,868.14 612.49,867.91 613.08,867.67 613.67,867.43 614.26,867.19 614.85,866.94 615.44,866.68 616.03,866.42 616.62,866.16 617.21,865.89 617.80,865.61 618.39,865.34 618.98,865.05 619.57,864.77 620.16,864.47 620.75,864.18 621.34,863.87 621.93,863.56 622.52,863.25 623.11,862.93 623.70,862.61 624.29,862.28 624.88,861.95 625.47,861.61 626.06,861.27 626.65,860.92 627.24,860.56 627.83,860.20 628.42,859.84 629.01,859.47 629.60,859.09 630.19,858.71 630.78,858.32 631.37,857.93 631.96,857.53 632.55,857.13 633.14,856.72 633.73,856.30 634.32,855.88 634.91,855.45 635.50,855.02 636.09,854.58 636.68,854.14 637.27,853.69 637.86,853.23 638.45,852.77 639.04,852.30 639.63,851.83 640.22,851.35 640.81,850.87 641.40,850.38 641.99,849.88 642.58,849.38 643.17,848.87 643.76,848.35 644.35,847.84 644.94,847.31 645.53,846.78 646.12,846.24 646.71,845.70 647.30,845.15 647.89,844.60 648.48,844.04 649.07,843.47 649.66,842.90 650.25,842.32 650.84,841.74 651.43,841.15 652.02,840.55 652.61,839.95 653.20,839.35 653.79,838.74 654.38,838.12 654.97,837.50 655.56,836.87 656.15,836.24 656.74,835.60 657.33,834.96 657.92,834.31 658.51,833.66 659.10,833.00 659.69,832.33 660.28,831.66 660.87,830.99 661.46,830.31 662.05,829.63 662.64,828.94 663.23,828.24 663.82,827.55 664.41,826.84 665.00,826.13 665.59,825.42 666.18,824.71 666.77,823.98 667.36,823.26 667.95,822.53 668.54,821.80 669.13,821.06 669.72,820.32 670.31,819.57 670.90,818.82 671.49,818.07 672.08,817.31 672.67,816.55 673.26,815.79 673.85,815.02 674.44,814.25 675.03,813.47 675.62,812.70 676.21,811.92 676.80,811.13 677.39,810.35 677.98,809.56 678.57,808.77 679.16,807.97 679.75,807.18 680.34,806.38 680.93,805.58 681.52,804.77 682.11,803.97 682.70,803.16 683.29,802.35 683.88,801.54 684.47,800.73 685.06,799.91 685.65,799.10 686.24,798.28 686.83,797.46 687.42,796.64 688.01,795.82 688.60,795.00 689.19,794.18 689.78,793.36 690.37,792.53 690.96,791.71 691.55,790.89 692.14,790.06 692.73,789.24 693.32,788.42 693.91,787.59 694.50,786.77 695.09,785.95 695.68,785.12 696.27,784.30 696.86,783.48 697.45,782.66 698.04,781.84 698.63,781.02 699.22,780.20 699.81,779.39 700.40,778.57 700.99,777.76 701.58,776.95 702.17,776.13 702.76,775.33 703.35,774.52 703.94,773.72 704.53,772.91 705.12,772.11 705.71,771.31 706.30,770.52 706.89,769.73 707.48,768.94 708.07,768.15 708.66,767.36 709.25,766.58 709.84,765.80 710.43,765.03 711.02,764.25 711.61,763.48 712.20,762.72 712.79,761.95 713.38,761.20 713.97,760.44 714.56,759.69 715.15,758.94 715.74,758.20 716.33,757.46 716.92,756.72 717.51,755.99 718.10,755.26 718.69,754.54 719.28,753.82 719.87,753.10 720.46,752.39 721.05,751.69 721.64,750.99 722.23,750.29 722.82,749.60 723.41,748.91 724.00,748.23 724.59,747.55 725.18,746.88 725.77,746.21 726.36,745.55 726.95,744.89 727.54,744.24 728.13,743.60 728.72,742.95 729.31,742.32 729.90,741.69 730.49,741.06 731.08,740.44 731.67,739.83 732.26,739.22 732.85,738.62 733.44,738.02 734.03,737.43 734.62,736.84 735.21,736.26 735.80,735.69" fill="none" stroke="#0000ff" stroke-width="1.55" stroke-linejoin="round"/>
<polyline points="558.80,877.20 559.39,877.15 559.98,877.10 560.57,877.03 561.16,876.97 561.75,876.89 562.34,876.81 562.93,876.72 563.52,876.61 564.11,876.50 564.70,876.38 565.29,876.24 565.88,876.09 566.47,875.93 567.06,875.75 567.65,875.56 568.24,875.34 568.83,875.11 569.42,874.86 570.01,874.59 570.60,874.29 571.19,873.97 571.78,873.62 572.37,873.25 572.96,872.84 573.55,872.41 574.14,871.94 574.73,871.43 575.32,870.90 575.91,870.32 576.50,869.70 577.09,869.04 577.68,868.34 578.27,867.60 578.86,866.80 579.45,865.96 580.04,865.07 580.63,864.13 581.22,863.13 581.81,862.08 582.40,860.98 582.99,859.81 583.58,858.59 584.17,857.31 584.76,855.97 585.35,854.57 585.94,853.10 586.53,851.58 587.12,849.99 587.71,848.34 588.30,846.62 588.89,844.85 589.48,843.01 590.07,841.11 590.66,839.15 591.25,837.13 591.84,835.05 592.43,832.92 593.02,830.73 593.61,828.48 594.20,826.19 594.79,823.85 595.38,821.46 595.97,819.03 596.56,816.55 597.15,814.04 597.74,811.49 598.33,808.92 598.92,806.31 599.51,803.68 600.10,801.03 600.69,798.36 601.28,795.68 601.87,792.99 602.46,790.29 603.05,787.59 603.64,784.89 604.23,782.21 604.82,779.53 605.41,776.86 606.00,774.21 606.59,771.59 607.18,768.99 607.77,766.42 608.36,763.88 608.95,761.37 609.54,758.91 610.13,756.49 610.72,754.11 611.31,751.78 611.90,749.49 612.49,747.26 613.08,745.08 613.67,742.96 614.26,740.90 614.85,738.89 615.44,736.95 616.03,735.06 616.62,733.24 617.21,731.47 617.80,729.77 618.39,728.14 618.98,726.56 619.57,725.05 620.16,723.60 620.75,722.21 621.34,720.88 621.93,719.62 622.52,718.41 623.11,717.26 623.70,716.16 624.29,715.13 624.88,714.14 625.47,713.21 626.06,712.33 626.65,711.50 627.24,710.72 627.83,709.98 628.42,709.29 629.01,708.64 629.60,708.04 630.19,707.47 630.78,706.94 631.37,706.44 631.96,705.98 632.55,705.55 633.14,705.16 633.73,704.79 634.32,704.45 634.91,704.13 635.50,703.84 636.09,703.57 636.68,703.32 637.27,703.09 637.86,702.89 638.45,702.70 639.04,702.52 639.63,702.36 640.22,702.21 640.81,702.08 641.40,701.96 641.99,701.85 642.58,701.75 643.17,701.66 643.76,701.58 644.35,701.51 644.94,701.44 645.53,701.38 646.12,701.33 646.71,701.28 647.30,701.24 647.89,701.20 648.48,701.16 649.07,701.13 649.66,701.10 650.25,701.08 650.84,701.06 651.43,701.04 652.02,701.02 652.61,701.01 653.20,700.99 653.79,700.98 654.38,700.97 654.97,700.96 655.56,700.95 656.15,700.95 656.74,700.94 657.33,700.93 657.92,700.93 658.51,700.93 659.10,700.92 659.69,700.92 660.28,700.92 660.87,700.91 661.46,700.91 662.05,700.91 662.64,700.91 663.23,700.91 663.82,700.91 664.41,700.91 665.00,700.90 665.59,700.90 666.18,700.90 666.77,700.90 667.36,700.90 667.95,700.90 668.54,700.90 669.13,700.90 669.72,700.90 670.31,700.90 670.90,700.90 671.49,700.90 672.08,700.90 672.67,700.90 673.26,700.90 673.85,700.90 674.44,700.90 675.03,700.90 675.62,700.90 676.21,700.90 676.80,700.90 677.39,700.90 677.98,700.90 678.57,700.90 679.16,700.90 679.75,700.90 680.34,700.90 680.93,700.90 681.52,700.90 682.11,700.90 682.70,700.90 683.29,700.90 683.88,700.90 684.47,700.90 685.06,700.90 685.65,700.90 686.24,700.90 686.83,700.90 687.42,700.90 688.01,700.90 688.60,700.90 689.19,700.90 689.78,700.90 690.37,700.90 690.96,700.90 691.55,700.90 692.14,700.90 692.73,700.90 693.32,700.90 693.91,700.90 694.50,700.90 695.09,700.90 695.68,700.90 696.27,700.90 696.86,700.90 697.45,700.90 698.04,700.90 698.63,700.90 699.22,700.90 699.81,700.90 700.40,700.90 700.99,700.90 701.58,700.90 702.17,700.90 702.76,700.90 703.35,700.90 703.94,700.90 704.53,700.90 705.12,700.90 705.71,700.90 706.30,700.90 706.89,700.90 707.48,700.90 708.07,700.90 708.66,700.90 709.25,700.90 709.84,700.90 710.43,700.90 711.02,700.90 711.61,700.90 712.20,700.90 712.79,700.90 713.38,700.90 713.97,700.90 714.56,700.90 715.15,700.90 715.74,700.90 716.33,700.90 716.92,700.90 717.51,700.90 718.10,700.90 718.69,700.90 719.28,700.90 719.87,700.90 720.46,700.90 721.05,700.90 721.64,700.90 722.23,700.90 722.82,700.90 723.41,700.90 724.00,700.90 724.59,700.90 725.18,700.90 725.77,700.90 726.36,700.90 726.95,700.90 727.54,700.90 728.13,700.90 728.72,700.90 729.31,700.90 729.90,700.90 730.49,700.90 731.08,700.90 731.67,700.90 732.26,700.90 732.85,700.90 733.44,700.90 734.03,700.90 734.62,700.90 735.21,700.90 735.80,700.90" fill="none" stroke="#ff0000" stroke-width="1.55" stroke-linejoin="round"/>
<polyline points="558.80,877.20 559.39,877.15 559.98,877.10 560.57,877.03 561.16,876.97 561.75,876.89 562.34,876.80 562.93,876.71 563.52,876.60 564.11,876.49 564.70,876.35 565.29,876.21 565.88,876.05 566.47,875.88 567.06,875.68 567.65,875.47 568.24,875.24 568.83,874.99 569.42,874.71 570.01,874.41 570.60,874.08 571.19,873.72 571.78,873.33 572.37,872.90 572.96,872.45 573.55,871.95 574.14,871.42 574.73,870.85 575.32,870.23 575.91,869.57 576.50,868.86 577.09,868.10 577.68,867.29 578.27,866.42 578.86,865.50 579.45,864.53 580.04,863.49 580.63,862.39 581.22,861.23 581.81,860.01 582.40,858.72 582.99,857.36 583.58,855.93 584.17,854.44 584.76,852.87 585.35,851.23 585.94,849.53 586.53,847.75 587.12,845.90 587.71,843.98 588.30,841.99 588.89,839.93 589.48,837.81 590.07,835.61 590.66,833.36 591.25,831.03 591.84,828.65 592.43,826.21 593.02,823.72 593.61,821.17 594.20,818.58 594.79,815.93 595.38,813.25 595.97,810.52 596.56,807.77 597.15,804.98 597.74,802.17 598.33,799.33 598.92,796.48 599.51,793.62 600.10,790.75 600.69,787.88 601.28,785.00 601.87,782.14 602.46,779.29 603.05,776.45 603.64,773.64 604.23,770.85 604.82,768.09 605.41,765.37 606.00,762.68 606.59,760.03 607.18,757.43 607.77,754.88 608.36,752.39 608.95,749.94 609.54,747.56 610.13,745.23 610.72,742.97 611.31,740.78 611.90,738.65 612.49,736.58 613.08,734.59 613.67,732.67 614.26,730.81 614.85,729.03 615.44,727.32 616.03,725.68 616.62,724.11 617.21,722.61 617.80,721.18 618.39,719.82 618.98,718.52 619.57,717.29 620.16,716.13 620.75,715.03 621.34,713.99 621.93,713.01 622.52,712.08 623.11,711.22 623.70,710.40 624.29,709.64 624.88,708.93 625.47,708.27 626.06,707.65 626.65,707.07 627.24,706.53 627.83,706.04 628.42,705.58 629.01,705.15 629.60,704.76 630.19,704.40 630.78,704.07 631.37,703.76 631.96,703.49 632.55,703.23 633.14,703.00 633.73,702.78 634.32,702.59 634.91,702.41 635.50,702.25 636.09,702.11 636.68,701.98 637.27,701.86 637.86,701.75 638.45,701.66 639.04,701.57 639.63,701.49 640.22,701.43 640.81,701.36 641.40,701.31 641.99,701.26 642.58,701.22 643.17,701.18 643.76,701.14 644.35,701.11 644.94,701.08 645.53,701.06 646.12,701.04 646.71,701.02 647.30,701.01 647.89,700.99 648.48,700.98 649.07,700.97 649.66,700.96 650.25,700.95 650.84,700.94 651.43,700.94 652.02,700.93 652.61,700.93 653.20,700.92 653.79,700.92 654.38,700.92 654.97,700.91 655.56,700.91 656.15,700.91 656.74,700.91 657.33,700.91 657.92,700.91 658.51,700.91 659.10,700.90 659.69,700.90 660.28,700.90 660.87,700.90 661.46,700.90 662.05,700.90 662.64,700.90 663.23,700.90 663.82,700.90 664.41,700.90 665.00,700.90 665.59,700.90 666.18,700.90 666.77,700.90 667.36,700.90 667.95,700.90 668.54,700.90 669.13,700.90 669.72,700.90 670.31,700.90 670.90,700.90 671.49,700.90 672.08,700.90 672.67,700.90 673.26,700.90 673.85,700.90 674.44,700.90 675.03,700.90 675.62,700.90 676.21,700.90 676.80,700.90 677.39,700.90 677.98,700.90 678.57,700.90 679.16,700.90 679.75,700.90 680.34,700.90 680.93,700.90 681.52,700.90 682.11,700.90 682.70,700.90 683.29,700.90 683.88,700.90 684.47,700.90 685.06,700.90 685.65,700.90 686.24,700.90 686.83,700.90 687.42,700.90 688.01,700.90 688.60,700.90 689.19,700.90 689.78,700.90 690.37,700.90 690.96,700.90 691.55,700.90 692.14,700.90 692.73,700.90 693.32,700.90 693.91,700.90 694.50,700.90 695.09,700.90 695.68,700.90 696.27,700.90 696.86,700.90 697.45,700.90 698.04,700.90 698.63,700.90 699.22,700.90 699.81,700.90 700.40,700.90 700.99,700.90 701.58,700.90 702.17,700.90 702.76,700.90 703.35,700.90 703.94,700.90 704.53,700.90 705.12,700.90 705.71,700.90 706.30,700.90 706.89,700.90 707.48,700.90 708.07,700.90 708.66,700.90 709.25,700.90 709.84,700.90 710.43,700.90 711.02,700.90 711.61,700.90 712.20,700.90 712.79,700.90 713.38,700.90 713.97,700.90 714.56,700.90 715.15,700.90 715.74,700.90 716.33,700.90 716.92,700.90 717.51,700.90 718.10,700.90 718.69,700.90 719.28,700.90 719.87,700.90 720.46,700.90 721.05,700.90 721.64,700.90 722.23,700.90 722.82,700.90 723.41,700.90 724.00,700.90 724.59,700.90 725.18,700.90 725.77,700.90 726.36,700.90 726.95,700.90 727.54,700.90 728.13,700.90 728.72,700.90 729.31,700.90 729.90,700.90 730.49,700.90 731.08,700.90 731.67,700.90 732.26,700.90 732.85,700.90 733.44,700.90 734.03,700.90 734.62,700.90 735.21,700.90 735.80,700.90" fill="none" stroke="#ff00ff" stroke-width="1.55" stroke-linejoin="round"/>
<circle cx="617.80" cy="853.58" r="2.2" fill="#0000ff"/>
<circle cx="637.39" cy="858.51" r="3.7" fill="#0000ff"/>
<circle cx="657.14" cy="811.62" r="4.7" fill="#0000ff"/>
<circle cx="676.80" cy="811.62" r="5.2" fill="#0000ff"/>
<circle cx="696.46" cy="791.87" r="4.7" fill="#0000ff"/>
<circle cx="716.14" cy="767.19" r="3.0" fill="#0000ff"/>
<circle cx="735.80" cy="718.88" r="1.5" fill="#0000ff"/>
<circle cx="558.80" cy="846.17" r="2.7" fill="#ff0000"/>
<circle cx="598.14" cy="808.44" r="8.9" fill="#ff0000"/>
<circle cx="617.80" cy="734.40" r="4.4" fill="#ff0000"/>
<circle cx="558.80" cy="877.55" r="2.8" fill="#ff00ff"/>
<circle cx="578.46" cy="872.26" r="6.9" fill="#ff00ff"/>
<circle cx="598.14" cy="798.57" r="9.4" fill="#ff00ff"/>
<circle cx="617.80" cy="719.59" r="4.4" fill="#ff00ff"/>
<line x1="558.80" y1="699.70" x2="558.80" y2="878.10" stroke="#3c3c3c" stroke-width="1.8"/>
<line x1="557.90" y1="877.20" x2="735.80" y2="877.20" stroke="#3c3c3c" stroke-width="1.8"/>
<line x1="558.80" y1="877.20" x2="561.40" y2="877.20" stroke="#3c3c3c" stroke-width="1.8"/>
<line x1="558.80" y1="841.94" x2="561.40" y2="841.94" stroke="#3c3c3c" stroke-width="1.8"/>
<line x1="558.80" y1="806.68" x2="561.40" y2="806.68" stroke="#3c3c3c" stroke-width="1.8"/>
<line x1="558.80" y1="771.42" x2="561.40" y2="771.42" stroke="#3c3c3c" stroke-width="1.8"/>
<line x1="558.80" y1="736.16" x2="561.40" y2="736.16" stroke="#3c3c3c" stroke-width="1.8"/>
<line x1="558.80" y1="700.90" x2="561.40" y2="700.90" stroke="#3c3c3c" stroke-width="1.8"/>
<line x1="558.80" y1="877.20" x2="558.80" y2="874.60" stroke="#3c3c3c" stroke-width="1.8"/>
<line x1="606.00" y1="877.20" x2="606.00" y2="874.60" stroke="#3c3c3c" stroke-width="1.8"/>
<line x1="653.20" y1="877.20" x2="653.20" y2="874.60" stroke="#3c3c3c" stroke-width="1.8"/>
<line x1="700.40" y1="877.20" x2="700.40" y2="874.60" stroke="#3c3c3c" stroke-width="1.8"/>
<text x="0" y="0" font-size="15.8" text-anchor="middle" fill="#262626" transform="translate(558.80,897.70) scale(0.93,1)">0</text>
<text x="0" y="0" font-size="15.8" text-anchor="middle" fill="#262626" transform="translate(606.00,897.70) scale(0.93,1)">0.2</text>
<text x="0" y="0" font-size="15.8" text-anchor="middle" fill="#262626" transform="translate(653.20,897.70) scale(0.93,1)">0.4</text>
<text x="0" y="0" font-size="15.8" text-anchor="middle" fill="#262626" transform="translate(700.40,897.70) scale(0.93,1)">0.6</text>
</svg></body></html>
